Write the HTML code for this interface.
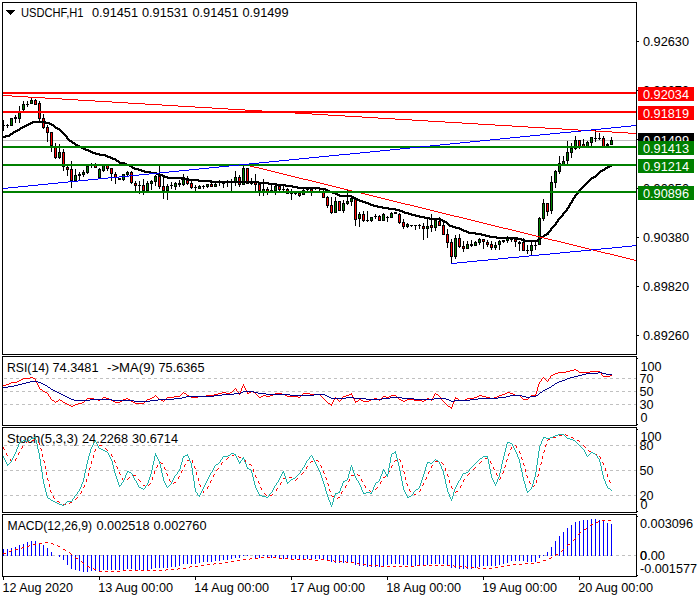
<!DOCTYPE html>
<html><head><meta charset="utf-8"><title>USDCHF H1</title>
<style>
html,body{margin:0;padding:0;background:#fff;}
body{width:700px;height:600px;overflow:hidden;}
svg{display:block;}
text{font-family:"Liberation Sans",sans-serif;}
</style></head><body>
<svg width="700" height="600" viewBox="0 0 700 600">
<rect width="700" height="600" fill="#fff"/>
<g>
<text x="7" y="372" fill="#000" font-size="12.6" textLength="42" lengthAdjust="spacingAndGlyphs">RSI(14)</text>
<text x="52.5" y="372" fill="#000" font-size="12.6" textLength="46" lengthAdjust="spacingAndGlyphs">74.3481</text>
<text x="107" y="372" fill="#000" font-size="12.6" textLength="48" lengthAdjust="spacingAndGlyphs">-&gt;MA(9)</text>
<text x="158.5" y="372" fill="#000" font-size="12.6" textLength="46" lengthAdjust="spacingAndGlyphs">75.6365</text>
<text x="7" y="443" fill="#000" font-size="12.6" textLength="71" lengthAdjust="spacingAndGlyphs">Stoch(5,3,3)</text>
<text x="82" y="443" fill="#000" font-size="12.6" textLength="46" lengthAdjust="spacingAndGlyphs">24.2268</text>
<text x="132" y="443" fill="#000" font-size="12.6" textLength="46" lengthAdjust="spacingAndGlyphs">30.6714</text>
<text x="7.5" y="530" fill="#000" font-size="12.6" textLength="84.5" lengthAdjust="spacingAndGlyphs">MACD(12,26,9)</text>
<text x="96.5" y="530" fill="#000" font-size="12.6" textLength="53" lengthAdjust="spacingAndGlyphs">0.002518</text>
<text x="153.5" y="530" fill="#000" font-size="12.6" textLength="53" lengthAdjust="spacingAndGlyphs">0.002760</text>
</g>
<g shape-rendering="crispEdges">
<rect x="3" y="140" width="633" height="1" fill="#c0c0c0"/>
<rect x="3" y="120" width="1" height="11" fill="#000"/>
<rect x="2" y="125" width="3" height="1" fill="#000"/>
<rect x="7" y="124" width="1" height="4" fill="#000"/>
<rect x="6" y="125" width="3" height="1" fill="#000"/>
<rect x="11" y="118" width="1" height="8" fill="#000"/>
<rect x="10" y="118" width="3" height="8" fill="#000"/>
<rect x="11" y="119" width="1" height="6" fill="#008000"/>
<rect x="15" y="115" width="1" height="8" fill="#000"/>
<rect x="14" y="117" width="3" height="2" fill="#000"/>
<rect x="19" y="106" width="1" height="17" fill="#000"/>
<rect x="18" y="111" width="3" height="8" fill="#000"/>
<rect x="19" y="112" width="1" height="6" fill="#008000"/>
<rect x="23" y="101" width="1" height="10" fill="#000"/>
<rect x="22" y="104" width="3" height="6" fill="#000"/>
<rect x="23" y="105" width="1" height="4" fill="#008000"/>
<rect x="27" y="101" width="1" height="6" fill="#000"/>
<rect x="26" y="104" width="3" height="1" fill="#000"/>
<rect x="31" y="98" width="1" height="6" fill="#000"/>
<rect x="30" y="100" width="3" height="4" fill="#000"/>
<rect x="31" y="101" width="1" height="2" fill="#008000"/>
<rect x="35" y="99" width="1" height="6" fill="#000"/>
<rect x="34" y="100" width="3" height="5" fill="#000"/>
<rect x="35" y="101" width="1" height="3" fill="#ff0000"/>
<rect x="39" y="101" width="1" height="22" fill="#000"/>
<rect x="38" y="103" width="3" height="16" fill="#000"/>
<rect x="39" y="104" width="1" height="14" fill="#ff0000"/>
<rect x="43" y="114" width="1" height="15" fill="#000"/>
<rect x="42" y="118" width="3" height="10" fill="#000"/>
<rect x="43" y="119" width="1" height="8" fill="#ff0000"/>
<rect x="47" y="125" width="1" height="17" fill="#000"/>
<rect x="46" y="127" width="3" height="6" fill="#000"/>
<rect x="47" y="128" width="1" height="4" fill="#ff0000"/>
<rect x="51" y="132" width="1" height="20" fill="#000"/>
<rect x="50" y="132" width="3" height="14" fill="#000"/>
<rect x="51" y="133" width="1" height="12" fill="#ff0000"/>
<rect x="55" y="143" width="1" height="16" fill="#000"/>
<rect x="54" y="146" width="3" height="12" fill="#000"/>
<rect x="55" y="147" width="1" height="10" fill="#ff0000"/>
<rect x="59" y="144" width="1" height="15" fill="#000"/>
<rect x="58" y="152" width="3" height="6" fill="#000"/>
<rect x="59" y="153" width="1" height="4" fill="#008000"/>
<rect x="63" y="149" width="1" height="22" fill="#000"/>
<rect x="62" y="152" width="3" height="15" fill="#000"/>
<rect x="63" y="153" width="1" height="13" fill="#ff0000"/>
<rect x="67" y="166" width="1" height="10" fill="#000"/>
<rect x="66" y="167" width="3" height="3" fill="#000"/>
<rect x="67" y="168" width="1" height="1" fill="#ff0000"/>
<rect x="71" y="161" width="1" height="27" fill="#000"/>
<rect x="70" y="169" width="3" height="12" fill="#000"/>
<rect x="71" y="170" width="1" height="10" fill="#ff0000"/>
<rect x="75" y="169" width="1" height="12" fill="#000"/>
<rect x="74" y="175" width="3" height="6" fill="#000"/>
<rect x="75" y="176" width="1" height="4" fill="#008000"/>
<rect x="79" y="172" width="1" height="8" fill="#000"/>
<rect x="78" y="174" width="3" height="2" fill="#000"/>
<rect x="83" y="170" width="1" height="7" fill="#000"/>
<rect x="82" y="172" width="3" height="3" fill="#000"/>
<rect x="83" y="173" width="1" height="1" fill="#008000"/>
<rect x="87" y="165" width="1" height="9" fill="#000"/>
<rect x="86" y="166" width="3" height="7" fill="#000"/>
<rect x="87" y="167" width="1" height="5" fill="#008000"/>
<rect x="91" y="163" width="1" height="5" fill="#000"/>
<rect x="90" y="165" width="3" height="1" fill="#000"/>
<rect x="95" y="163" width="1" height="5" fill="#000"/>
<rect x="94" y="165" width="3" height="3" fill="#000"/>
<rect x="95" y="166" width="1" height="1" fill="#ff0000"/>
<rect x="99" y="168" width="1" height="10" fill="#000"/>
<rect x="98" y="169" width="3" height="9" fill="#000"/>
<rect x="99" y="170" width="1" height="7" fill="#008000"/>
<rect x="103" y="165" width="1" height="7" fill="#000"/>
<rect x="102" y="165" width="3" height="6" fill="#000"/>
<rect x="103" y="166" width="1" height="4" fill="#008000"/>
<rect x="107" y="165" width="1" height="6" fill="#000"/>
<rect x="106" y="165" width="3" height="4" fill="#000"/>
<rect x="107" y="166" width="1" height="2" fill="#ff0000"/>
<rect x="111" y="168" width="1" height="13" fill="#000"/>
<rect x="110" y="168" width="3" height="6" fill="#000"/>
<rect x="111" y="169" width="1" height="4" fill="#ff0000"/>
<rect x="115" y="172" width="1" height="12" fill="#000"/>
<rect x="114" y="174" width="3" height="4" fill="#000"/>
<rect x="115" y="175" width="1" height="2" fill="#ff0000"/>
<rect x="119" y="178" width="1" height="2" fill="#000"/>
<rect x="118" y="178" width="3" height="2" fill="#000"/>
<rect x="123" y="174" width="1" height="7" fill="#000"/>
<rect x="122" y="174" width="3" height="6" fill="#000"/>
<rect x="123" y="175" width="1" height="4" fill="#008000"/>
<rect x="127" y="171" width="1" height="5" fill="#000"/>
<rect x="126" y="172" width="3" height="3" fill="#000"/>
<rect x="127" y="173" width="1" height="1" fill="#008000"/>
<rect x="131" y="171" width="1" height="13" fill="#000"/>
<rect x="130" y="172" width="3" height="11" fill="#000"/>
<rect x="131" y="173" width="1" height="9" fill="#ff0000"/>
<rect x="135" y="181" width="1" height="10" fill="#000"/>
<rect x="134" y="183" width="3" height="3" fill="#000"/>
<rect x="135" y="184" width="1" height="1" fill="#ff0000"/>
<rect x="139" y="181" width="1" height="13" fill="#000"/>
<rect x="138" y="185" width="3" height="1" fill="#000"/>
<rect x="143" y="179" width="1" height="16" fill="#000"/>
<rect x="142" y="185" width="3" height="6" fill="#000"/>
<rect x="143" y="186" width="1" height="4" fill="#ff0000"/>
<rect x="147" y="181" width="1" height="10" fill="#000"/>
<rect x="146" y="183" width="3" height="8" fill="#000"/>
<rect x="147" y="184" width="1" height="6" fill="#008000"/>
<rect x="151" y="180" width="1" height="10" fill="#000"/>
<rect x="150" y="181" width="3" height="3" fill="#000"/>
<rect x="151" y="182" width="1" height="1" fill="#008000"/>
<rect x="155" y="175" width="1" height="11" fill="#000"/>
<rect x="154" y="176" width="3" height="6" fill="#000"/>
<rect x="155" y="177" width="1" height="4" fill="#008000"/>
<rect x="159" y="166" width="1" height="23" fill="#000"/>
<rect x="158" y="176" width="3" height="11" fill="#000"/>
<rect x="159" y="177" width="1" height="9" fill="#ff0000"/>
<rect x="163" y="176" width="1" height="23" fill="#000"/>
<rect x="162" y="186" width="3" height="5" fill="#000"/>
<rect x="163" y="187" width="1" height="3" fill="#ff0000"/>
<rect x="167" y="184" width="1" height="16" fill="#000"/>
<rect x="166" y="186" width="3" height="5" fill="#000"/>
<rect x="167" y="187" width="1" height="3" fill="#008000"/>
<rect x="171" y="182" width="1" height="7" fill="#000"/>
<rect x="170" y="185" width="3" height="1" fill="#000"/>
<rect x="175" y="182" width="1" height="8" fill="#000"/>
<rect x="174" y="183" width="3" height="4" fill="#000"/>
<rect x="175" y="184" width="1" height="2" fill="#008000"/>
<rect x="179" y="180" width="1" height="7" fill="#000"/>
<rect x="178" y="183" width="3" height="2" fill="#000"/>
<rect x="183" y="174" width="1" height="12" fill="#000"/>
<rect x="182" y="177" width="3" height="8" fill="#000"/>
<rect x="183" y="178" width="1" height="6" fill="#008000"/>
<rect x="187" y="176" width="1" height="9" fill="#000"/>
<rect x="186" y="180" width="3" height="4" fill="#000"/>
<rect x="187" y="181" width="1" height="2" fill="#ff0000"/>
<rect x="191" y="181" width="1" height="8" fill="#000"/>
<rect x="190" y="183" width="3" height="5" fill="#000"/>
<rect x="191" y="184" width="1" height="3" fill="#ff0000"/>
<rect x="195" y="185" width="1" height="6" fill="#000"/>
<rect x="194" y="187" width="3" height="1" fill="#000"/>
<rect x="199" y="185" width="1" height="4" fill="#000"/>
<rect x="198" y="186" width="3" height="3" fill="#000"/>
<rect x="199" y="187" width="1" height="1" fill="#008000"/>
<rect x="203" y="185" width="1" height="4" fill="#000"/>
<rect x="202" y="186" width="3" height="1" fill="#000"/>
<rect x="207" y="184" width="1" height="4" fill="#000"/>
<rect x="206" y="184" width="3" height="3" fill="#000"/>
<rect x="207" y="185" width="1" height="1" fill="#008000"/>
<rect x="211" y="180" width="1" height="7" fill="#000"/>
<rect x="210" y="184" width="3" height="3" fill="#000"/>
<rect x="211" y="185" width="1" height="1" fill="#ff0000"/>
<rect x="215" y="183" width="1" height="4" fill="#000"/>
<rect x="214" y="184" width="3" height="3" fill="#000"/>
<rect x="215" y="185" width="1" height="1" fill="#008000"/>
<rect x="219" y="180" width="1" height="6" fill="#000"/>
<rect x="218" y="182" width="3" height="1" fill="#000"/>
<rect x="223" y="182" width="1" height="6" fill="#000"/>
<rect x="222" y="183" width="3" height="1" fill="#000"/>
<rect x="227" y="180" width="1" height="7" fill="#000"/>
<rect x="226" y="182" width="3" height="1" fill="#000"/>
<rect x="231" y="179" width="1" height="12" fill="#000"/>
<rect x="230" y="182" width="3" height="1" fill="#000"/>
<rect x="235" y="171" width="1" height="15" fill="#000"/>
<rect x="234" y="177" width="3" height="5" fill="#000"/>
<rect x="235" y="178" width="1" height="3" fill="#008000"/>
<rect x="239" y="175" width="1" height="12" fill="#000"/>
<rect x="238" y="177" width="3" height="8" fill="#000"/>
<rect x="239" y="178" width="1" height="6" fill="#ff0000"/>
<rect x="243" y="166" width="1" height="19" fill="#000"/>
<rect x="242" y="168" width="3" height="17" fill="#000"/>
<rect x="243" y="169" width="1" height="15" fill="#008000"/>
<rect x="247" y="168" width="1" height="16" fill="#000"/>
<rect x="246" y="168" width="3" height="16" fill="#000"/>
<rect x="247" y="169" width="1" height="14" fill="#ff0000"/>
<rect x="251" y="178" width="1" height="7" fill="#000"/>
<rect x="250" y="181" width="3" height="3" fill="#000"/>
<rect x="251" y="182" width="1" height="1" fill="#008000"/>
<rect x="255" y="174" width="1" height="17" fill="#000"/>
<rect x="254" y="182" width="3" height="3" fill="#000"/>
<rect x="255" y="183" width="1" height="1" fill="#ff0000"/>
<rect x="259" y="184" width="1" height="12" fill="#000"/>
<rect x="258" y="184" width="3" height="7" fill="#000"/>
<rect x="259" y="185" width="1" height="5" fill="#ff0000"/>
<rect x="263" y="179" width="1" height="17" fill="#000"/>
<rect x="262" y="189" width="3" height="3" fill="#000"/>
<rect x="263" y="190" width="1" height="1" fill="#008000"/>
<rect x="267" y="187" width="1" height="8" fill="#000"/>
<rect x="266" y="189" width="3" height="3" fill="#000"/>
<rect x="267" y="190" width="1" height="1" fill="#ff0000"/>
<rect x="271" y="185" width="1" height="8" fill="#000"/>
<rect x="270" y="190" width="3" height="1" fill="#000"/>
<rect x="275" y="185" width="1" height="10" fill="#000"/>
<rect x="274" y="186" width="3" height="5" fill="#000"/>
<rect x="275" y="187" width="1" height="3" fill="#008000"/>
<rect x="279" y="186" width="1" height="5" fill="#000"/>
<rect x="278" y="186" width="3" height="4" fill="#000"/>
<rect x="279" y="187" width="1" height="2" fill="#ff0000"/>
<rect x="283" y="186" width="1" height="5" fill="#000"/>
<rect x="282" y="189" width="3" height="1" fill="#000"/>
<rect x="287" y="188" width="1" height="6" fill="#000"/>
<rect x="286" y="189" width="3" height="5" fill="#000"/>
<rect x="287" y="190" width="1" height="3" fill="#ff0000"/>
<rect x="291" y="189" width="1" height="11" fill="#000"/>
<rect x="290" y="192" width="3" height="2" fill="#000"/>
<rect x="295" y="193" width="1" height="2" fill="#000"/>
<rect x="294" y="193" width="3" height="1" fill="#000"/>
<rect x="299" y="193" width="1" height="4" fill="#000"/>
<rect x="298" y="193" width="3" height="3" fill="#000"/>
<rect x="299" y="194" width="1" height="1" fill="#ff0000"/>
<rect x="303" y="189" width="1" height="6" fill="#000"/>
<rect x="302" y="190" width="3" height="5" fill="#000"/>
<rect x="303" y="191" width="1" height="3" fill="#008000"/>
<rect x="307" y="188" width="1" height="3" fill="#000"/>
<rect x="306" y="189" width="3" height="1" fill="#000"/>
<rect x="311" y="189" width="1" height="7" fill="#000"/>
<rect x="310" y="189" width="3" height="3" fill="#000"/>
<rect x="311" y="190" width="1" height="1" fill="#ff0000"/>
<rect x="315" y="188" width="1" height="2" fill="#000"/>
<rect x="314" y="188" width="3" height="1" fill="#000"/>
<rect x="319" y="188" width="1" height="3" fill="#000"/>
<rect x="318" y="188" width="3" height="1" fill="#000"/>
<rect x="323" y="190" width="1" height="8" fill="#000"/>
<rect x="322" y="192" width="3" height="6" fill="#000"/>
<rect x="323" y="193" width="1" height="4" fill="#ff0000"/>
<rect x="327" y="196" width="1" height="12" fill="#000"/>
<rect x="326" y="197" width="3" height="9" fill="#000"/>
<rect x="327" y="198" width="1" height="7" fill="#ff0000"/>
<rect x="331" y="197" width="1" height="17" fill="#000"/>
<rect x="330" y="205" width="3" height="8" fill="#000"/>
<rect x="331" y="206" width="1" height="6" fill="#ff0000"/>
<rect x="335" y="197" width="1" height="16" fill="#000"/>
<rect x="334" y="201" width="3" height="12" fill="#000"/>
<rect x="335" y="202" width="1" height="10" fill="#008000"/>
<rect x="339" y="201" width="1" height="10" fill="#000"/>
<rect x="338" y="201" width="3" height="10" fill="#000"/>
<rect x="339" y="202" width="1" height="8" fill="#ff0000"/>
<rect x="343" y="200" width="1" height="13" fill="#000"/>
<rect x="342" y="203" width="3" height="8" fill="#000"/>
<rect x="343" y="204" width="1" height="6" fill="#008000"/>
<rect x="347" y="190" width="1" height="15" fill="#000"/>
<rect x="346" y="201" width="3" height="3" fill="#000"/>
<rect x="347" y="202" width="1" height="1" fill="#008000"/>
<rect x="351" y="196" width="1" height="10" fill="#000"/>
<rect x="350" y="198" width="3" height="4" fill="#000"/>
<rect x="351" y="199" width="1" height="2" fill="#008000"/>
<rect x="355" y="199" width="1" height="27" fill="#000"/>
<rect x="354" y="199" width="3" height="21" fill="#000"/>
<rect x="355" y="200" width="1" height="19" fill="#ff0000"/>
<rect x="359" y="212" width="1" height="15" fill="#000"/>
<rect x="358" y="214" width="3" height="5" fill="#000"/>
<rect x="359" y="215" width="1" height="3" fill="#008000"/>
<rect x="363" y="211" width="1" height="11" fill="#000"/>
<rect x="362" y="214" width="3" height="7" fill="#000"/>
<rect x="363" y="215" width="1" height="5" fill="#ff0000"/>
<rect x="367" y="211" width="1" height="11" fill="#000"/>
<rect x="366" y="220" width="3" height="1" fill="#000"/>
<rect x="371" y="217" width="1" height="5" fill="#000"/>
<rect x="370" y="217" width="3" height="4" fill="#000"/>
<rect x="371" y="218" width="1" height="2" fill="#008000"/>
<rect x="375" y="214" width="1" height="5" fill="#000"/>
<rect x="374" y="216" width="3" height="1" fill="#000"/>
<rect x="379" y="215" width="1" height="6" fill="#000"/>
<rect x="378" y="216" width="3" height="5" fill="#000"/>
<rect x="379" y="217" width="1" height="3" fill="#ff0000"/>
<rect x="383" y="213" width="1" height="8" fill="#000"/>
<rect x="382" y="214" width="3" height="7" fill="#000"/>
<rect x="383" y="215" width="1" height="5" fill="#008000"/>
<rect x="387" y="216" width="1" height="6" fill="#000"/>
<rect x="386" y="217" width="3" height="1" fill="#000"/>
<rect x="391" y="212" width="1" height="6" fill="#000"/>
<rect x="390" y="213" width="3" height="5" fill="#000"/>
<rect x="391" y="214" width="1" height="3" fill="#008000"/>
<rect x="395" y="212" width="1" height="2" fill="#000"/>
<rect x="394" y="212" width="3" height="2" fill="#000"/>
<rect x="399" y="213" width="1" height="11" fill="#000"/>
<rect x="398" y="214" width="3" height="9" fill="#000"/>
<rect x="399" y="215" width="1" height="7" fill="#ff0000"/>
<rect x="403" y="219" width="1" height="10" fill="#000"/>
<rect x="402" y="222" width="3" height="5" fill="#000"/>
<rect x="403" y="223" width="1" height="3" fill="#ff0000"/>
<rect x="407" y="223" width="1" height="5" fill="#000"/>
<rect x="406" y="224" width="3" height="3" fill="#000"/>
<rect x="407" y="225" width="1" height="1" fill="#008000"/>
<rect x="411" y="225" width="1" height="2" fill="#000"/>
<rect x="410" y="225" width="3" height="1" fill="#000"/>
<rect x="415" y="225" width="1" height="5" fill="#000"/>
<rect x="414" y="225" width="3" height="1" fill="#000"/>
<rect x="419" y="224" width="1" height="5" fill="#000"/>
<rect x="418" y="225" width="3" height="1" fill="#000"/>
<rect x="423" y="223" width="1" height="17" fill="#000"/>
<rect x="422" y="226" width="3" height="3" fill="#000"/>
<rect x="423" y="227" width="1" height="1" fill="#ff0000"/>
<rect x="427" y="219" width="1" height="19" fill="#000"/>
<rect x="426" y="226" width="3" height="3" fill="#000"/>
<rect x="427" y="227" width="1" height="1" fill="#008000"/>
<rect x="431" y="214" width="1" height="18" fill="#000"/>
<rect x="430" y="225" width="3" height="3" fill="#000"/>
<rect x="431" y="226" width="1" height="1" fill="#ff0000"/>
<rect x="435" y="219" width="1" height="12" fill="#000"/>
<rect x="434" y="220" width="3" height="8" fill="#000"/>
<rect x="435" y="221" width="1" height="6" fill="#008000"/>
<rect x="439" y="217" width="1" height="9" fill="#000"/>
<rect x="438" y="221" width="3" height="5" fill="#000"/>
<rect x="439" y="222" width="1" height="3" fill="#ff0000"/>
<rect x="443" y="222" width="1" height="13" fill="#000"/>
<rect x="442" y="225" width="3" height="10" fill="#000"/>
<rect x="443" y="226" width="1" height="8" fill="#ff0000"/>
<rect x="447" y="229" width="1" height="19" fill="#000"/>
<rect x="446" y="234" width="3" height="9" fill="#000"/>
<rect x="447" y="235" width="1" height="7" fill="#ff0000"/>
<rect x="451" y="239" width="1" height="24" fill="#000"/>
<rect x="450" y="242" width="3" height="15" fill="#000"/>
<rect x="451" y="243" width="1" height="13" fill="#ff0000"/>
<rect x="455" y="235" width="1" height="24" fill="#000"/>
<rect x="454" y="238" width="3" height="19" fill="#000"/>
<rect x="455" y="239" width="1" height="17" fill="#008000"/>
<rect x="459" y="234" width="1" height="14" fill="#000"/>
<rect x="458" y="238" width="3" height="9" fill="#000"/>
<rect x="459" y="239" width="1" height="7" fill="#ff0000"/>
<rect x="463" y="241" width="1" height="11" fill="#000"/>
<rect x="462" y="246" width="3" height="3" fill="#000"/>
<rect x="463" y="247" width="1" height="1" fill="#ff0000"/>
<rect x="467" y="241" width="1" height="8" fill="#000"/>
<rect x="466" y="244" width="3" height="5" fill="#000"/>
<rect x="467" y="245" width="1" height="3" fill="#008000"/>
<rect x="471" y="240" width="1" height="7" fill="#000"/>
<rect x="470" y="244" width="3" height="2" fill="#000"/>
<rect x="475" y="241" width="1" height="5" fill="#000"/>
<rect x="474" y="242" width="3" height="4" fill="#000"/>
<rect x="475" y="243" width="1" height="2" fill="#008000"/>
<rect x="479" y="238" width="1" height="7" fill="#000"/>
<rect x="478" y="239" width="3" height="4" fill="#000"/>
<rect x="479" y="240" width="1" height="2" fill="#008000"/>
<rect x="483" y="239" width="1" height="10" fill="#000"/>
<rect x="482" y="239" width="3" height="3" fill="#000"/>
<rect x="483" y="240" width="1" height="1" fill="#ff0000"/>
<rect x="487" y="240" width="1" height="7" fill="#000"/>
<rect x="486" y="242" width="3" height="3" fill="#000"/>
<rect x="487" y="243" width="1" height="1" fill="#ff0000"/>
<rect x="491" y="241" width="1" height="9" fill="#000"/>
<rect x="490" y="244" width="3" height="4" fill="#000"/>
<rect x="491" y="245" width="1" height="2" fill="#ff0000"/>
<rect x="495" y="242" width="1" height="8" fill="#000"/>
<rect x="494" y="245" width="3" height="3" fill="#000"/>
<rect x="495" y="246" width="1" height="1" fill="#008000"/>
<rect x="499" y="240" width="1" height="10" fill="#000"/>
<rect x="498" y="241" width="3" height="4" fill="#000"/>
<rect x="499" y="242" width="1" height="2" fill="#008000"/>
<rect x="503" y="240" width="1" height="3" fill="#000"/>
<rect x="502" y="240" width="3" height="2" fill="#000"/>
<rect x="507" y="236" width="1" height="7" fill="#000"/>
<rect x="506" y="238" width="3" height="3" fill="#000"/>
<rect x="507" y="239" width="1" height="1" fill="#008000"/>
<rect x="511" y="239" width="1" height="3" fill="#000"/>
<rect x="510" y="239" width="3" height="1" fill="#000"/>
<rect x="515" y="239" width="1" height="8" fill="#000"/>
<rect x="514" y="239" width="3" height="3" fill="#000"/>
<rect x="515" y="240" width="1" height="1" fill="#ff0000"/>
<rect x="519" y="241" width="1" height="10" fill="#000"/>
<rect x="518" y="242" width="3" height="2" fill="#000"/>
<rect x="523" y="238" width="1" height="13" fill="#000"/>
<rect x="522" y="242" width="3" height="9" fill="#000"/>
<rect x="523" y="243" width="1" height="7" fill="#ff0000"/>
<rect x="527" y="245" width="1" height="9" fill="#000"/>
<rect x="526" y="250" width="3" height="1" fill="#000"/>
<rect x="531" y="242" width="1" height="13" fill="#000"/>
<rect x="530" y="245" width="3" height="6" fill="#000"/>
<rect x="531" y="246" width="1" height="4" fill="#008000"/>
<rect x="535" y="242" width="1" height="8" fill="#000"/>
<rect x="534" y="245" width="3" height="1" fill="#000"/>
<rect x="539" y="217" width="1" height="28" fill="#000"/>
<rect x="538" y="218" width="3" height="27" fill="#000"/>
<rect x="539" y="219" width="1" height="25" fill="#008000"/>
<rect x="543" y="199" width="1" height="22" fill="#000"/>
<rect x="542" y="203" width="3" height="16" fill="#000"/>
<rect x="543" y="204" width="1" height="14" fill="#008000"/>
<rect x="547" y="203" width="1" height="13" fill="#000"/>
<rect x="546" y="203" width="3" height="9" fill="#000"/>
<rect x="547" y="204" width="1" height="7" fill="#ff0000"/>
<rect x="551" y="176" width="1" height="38" fill="#000"/>
<rect x="550" y="182" width="3" height="29" fill="#000"/>
<rect x="551" y="183" width="1" height="27" fill="#008000"/>
<rect x="555" y="170" width="1" height="18" fill="#000"/>
<rect x="554" y="171" width="3" height="12" fill="#000"/>
<rect x="555" y="172" width="1" height="10" fill="#008000"/>
<rect x="559" y="156" width="1" height="18" fill="#000"/>
<rect x="558" y="163" width="3" height="9" fill="#000"/>
<rect x="559" y="164" width="1" height="7" fill="#008000"/>
<rect x="563" y="156" width="1" height="9" fill="#000"/>
<rect x="562" y="161" width="3" height="4" fill="#000"/>
<rect x="563" y="162" width="1" height="2" fill="#008000"/>
<rect x="567" y="141" width="1" height="23" fill="#000"/>
<rect x="566" y="152" width="3" height="9" fill="#000"/>
<rect x="567" y="153" width="1" height="7" fill="#008000"/>
<rect x="571" y="143" width="1" height="15" fill="#000"/>
<rect x="570" y="148" width="3" height="5" fill="#000"/>
<rect x="571" y="149" width="1" height="3" fill="#008000"/>
<rect x="575" y="136" width="1" height="14" fill="#000"/>
<rect x="574" y="140" width="3" height="9" fill="#000"/>
<rect x="575" y="141" width="1" height="7" fill="#008000"/>
<rect x="579" y="140" width="1" height="9" fill="#000"/>
<rect x="578" y="140" width="3" height="7" fill="#000"/>
<rect x="579" y="141" width="1" height="5" fill="#ff0000"/>
<rect x="583" y="139" width="1" height="8" fill="#000"/>
<rect x="582" y="144" width="3" height="3" fill="#000"/>
<rect x="583" y="145" width="1" height="1" fill="#ff0000"/>
<rect x="587" y="141" width="1" height="6" fill="#000"/>
<rect x="586" y="142" width="3" height="5" fill="#000"/>
<rect x="587" y="143" width="1" height="3" fill="#008000"/>
<rect x="591" y="137" width="1" height="9" fill="#000"/>
<rect x="590" y="137" width="3" height="6" fill="#000"/>
<rect x="591" y="138" width="1" height="4" fill="#008000"/>
<rect x="595" y="130" width="1" height="12" fill="#000"/>
<rect x="594" y="138" width="3" height="1" fill="#000"/>
<rect x="599" y="133" width="1" height="7" fill="#000"/>
<rect x="598" y="138" width="3" height="1" fill="#000"/>
<rect x="603" y="136" width="1" height="11" fill="#000"/>
<rect x="602" y="138" width="3" height="9" fill="#000"/>
<rect x="603" y="139" width="1" height="7" fill="#ff0000"/>
<rect x="607" y="143" width="1" height="4" fill="#000"/>
<rect x="606" y="144" width="3" height="2" fill="#000"/>
<rect x="611" y="137" width="1" height="8" fill="#000"/>
<rect x="610" y="140" width="3" height="5" fill="#000"/>
<rect x="611" y="141" width="1" height="3" fill="#008000"/>
<path d="M32 121h14v1h-14zM30 122h20v1h-20zM28 123h5v1h-5zM45 123h7v1h-7zM49 124h5v1h-5zM26 124h5v1h-5zM51 125h4v1h-4zM24 125h5v1h-5zM53 126h3v1h-3zM22 126h5v1h-5zM54 127h4v1h-4zM20 127h5v1h-5zM55 128h5v1h-5zM19 128h4v1h-4zM57 129h4v1h-4zM17 129h4v1h-4zM59 130h3v1h-3zM15 130h5v1h-5zM60 131h3v1h-3zM13 131h5v1h-5zM12 132h4v1h-4zM61 132h3v1h-3zM62 133h3v1h-3zM10 133h4v1h-4zM9 134h4v1h-4zM63 134h3v1h-3zM64 135h3v1h-3zM5 135h6v1h-6zM3 136h7v1h-7zM65 136h3v1h-3zM66 137h2v1h-2zM3 137h3v1h-3zM66 138h3v1h-3zM67 139h3v1h-3zM68 140h4v1h-4zM69 141h4v1h-4zM71 142h4v1h-4zM72 143h4v1h-4zM74 144h4v1h-4zM75 145h5v1h-5zM77 146h5v1h-5zM79 147h5v1h-5zM81 148h5v1h-5zM83 149h6v1h-6zM85 150h6v1h-6zM88 151h5v1h-5zM90 152h6v1h-6zM92 153h8v1h-8zM95 154h11v1h-11zM99 155h9v1h-9zM105 156h6v1h-6zM107 157h6v1h-6zM110 158h6v1h-6zM112 159h5v1h-5zM115 160h4v1h-4zM116 161h4v1h-4zM118 162h7v1h-7zM119 163h8v1h-8zM124 164h6v1h-6zM126 165h6v1h-6zM609 165h3v1h-3zM129 166h4v1h-4zM607 166h5v1h-5zM605 167h5v1h-5zM131 167h4v1h-4zM132 168h7v1h-7zM604 168h4v1h-4zM602 169h4v1h-4zM134 169h8v1h-8zM600 170h5v1h-5zM138 170h7v1h-7zM141 171h10v1h-10zM599 171h4v1h-4zM598 172h3v1h-3zM144 172h13v1h-13zM150 173h9v1h-9zM597 173h3v1h-3zM156 174h7v1h-7zM596 174h3v1h-3zM595 175h3v1h-3zM158 175h7v1h-7zM162 176h6v1h-6zM593 176h4v1h-4zM591 177h5v1h-5zM164 177h18v1h-18zM590 178h4v1h-4zM167 178h22v1h-22zM589 179h3v1h-3zM181 179h18v1h-18zM588 180h3v1h-3zM188 180h23v1h-23zM198 181h61v1h-61zM587 181h3v1h-3zM586 182h3v1h-3zM210 182h59v1h-59zM258 183h19v1h-19zM585 183h3v1h-3zM268 184h18v1h-18zM584 184h3v1h-3zM583 185h3v1h-3zM276 185h17v1h-17zM582 186h3v1h-3zM285 186h13v1h-13zM292 187h28v1h-28zM581 187h3v1h-3zM580 188h3v1h-3zM297 188h29v1h-29zM579 189h3v1h-3zM319 189h9v1h-9zM325 190h5v1h-5zM578 190h3v1h-3zM327 191h6v1h-6zM577 191h3v1h-3zM577 192h2v1h-2zM329 192h7v1h-7zM332 193h6v1h-6zM576 193h3v1h-3zM575 194h3v1h-3zM335 194h5v1h-5zM337 195h15v1h-15zM574 195h3v1h-3zM339 196h15v1h-15zM574 196h2v1h-2zM573 197h3v1h-3zM351 197h5v1h-5zM353 198h5v1h-5zM572 198h3v1h-3zM572 199h2v1h-2zM355 199h5v1h-5zM571 200h3v1h-3zM357 200h6v1h-6zM571 201h2v1h-2zM359 201h7v1h-7zM570 202h3v1h-3zM362 202h7v1h-7zM569 203h3v1h-3zM365 203h6v1h-6zM569 204h2v1h-2zM368 204h6v1h-6zM370 205h8v1h-8zM568 205h3v1h-3zM373 206h10v1h-10zM568 206h2v1h-2zM567 207h3v1h-3zM377 207h12v1h-12zM566 208h3v1h-3zM382 208h14v1h-14zM566 209h2v1h-2zM388 209h12v1h-12zM565 210h3v1h-3zM395 210h8v1h-8zM564 211h3v1h-3zM399 211h6v1h-6zM402 212h7v1h-7zM563 212h3v1h-3zM562 213h3v1h-3zM404 213h8v1h-8zM408 214h8v1h-8zM562 214h2v1h-2zM561 215h3v1h-3zM411 215h9v1h-9zM415 216h10v1h-10zM560 216h3v1h-3zM419 217h11v1h-11zM559 217h3v1h-3zM558 218h3v1h-3zM424 218h17v1h-17zM557 219h3v1h-3zM429 219h14v1h-14zM557 220h2v1h-2zM440 220h5v1h-5zM442 221h5v1h-5zM556 221h3v1h-3zM555 222h3v1h-3zM444 222h4v1h-4zM555 223h2v1h-2zM446 223h3v1h-3zM447 224h3v1h-3zM554 224h3v1h-3zM448 225h5v1h-5zM553 225h3v1h-3zM449 226h7v1h-7zM552 226h3v1h-3zM452 227h8v1h-8zM551 227h3v1h-3zM455 228h7v1h-7zM550 228h3v1h-3zM459 229h5v1h-5zM550 229h2v1h-2zM549 230h3v1h-3zM461 230h6v1h-6zM548 231h3v1h-3zM463 231h6v1h-6zM466 232h10v1h-10zM547 232h3v1h-3zM468 233h14v1h-14zM546 233h3v1h-3zM475 234h11v1h-11zM544 234h5v1h-5zM481 235h9v1h-9zM543 235h4v1h-4zM541 236h4v1h-4zM485 236h12v1h-12zM489 237h29v1h-29zM540 237h4v1h-4zM496 238h26v1h-26zM538 238h4v1h-4zM517 239h8v1h-8zM537 239h4v1h-4zM521 240h18v1h-18zM524 241h14v1h-14z" fill="#000"/>
<path d="M3 95h9v1h-9zM12 96h16v1h-16zM28 97h17v1h-17zM45 98h17v1h-17zM62 99h16v1h-16zM78 100h17v1h-17zM95 101h17v1h-17zM112 102h16v1h-16zM128 103h17v1h-17zM145 104h17v1h-17zM162 105h16v1h-16zM178 106h17v1h-17zM195 107h17v1h-17zM212 108h16v1h-16zM228 109h17v1h-17zM245 110h17v1h-17zM262 111h16v1h-16zM278 112h17v1h-17zM295 113h17v1h-17zM312 114h16v1h-16zM328 115h17v1h-17zM345 116h17v1h-17zM362 117h16v1h-16zM378 118h17v1h-17zM395 119h17v1h-17zM412 120h16v1h-16zM428 121h17v1h-17zM445 122h17v1h-17zM462 123h16v1h-16zM478 124h17v1h-17zM495 125h17v1h-17zM512 126h16v1h-16zM528 127h17v1h-17zM545 128h17v1h-17zM562 129h16v1h-16zM578 130h17v1h-17zM595 131h17v1h-17zM612 132h16v1h-16zM628 133h9v1h-9z" fill="#ff0000"/>
<path d="M245 164h1v1h-1zM246 165h4v1h-4zM250 166h4v1h-4zM254 167h5v1h-5zM259 168h4v1h-4zM263 169h4v1h-4zM267 170h4v1h-4zM271 171h4v1h-4zM275 172h4v1h-4zM279 173h4v1h-4zM283 174h4v1h-4zM287 175h4v1h-4zM291 176h4v1h-4zM295 177h4v1h-4zM299 178h4v1h-4zM303 179h5v1h-5zM308 180h4v1h-4zM312 181h4v1h-4zM316 182h4v1h-4zM320 183h4v1h-4zM324 184h4v1h-4zM328 185h4v1h-4zM332 186h4v1h-4zM336 187h4v1h-4zM340 188h4v1h-4zM344 189h4v1h-4zM348 190h4v1h-4zM352 191h5v1h-5zM357 192h4v1h-4zM361 193h4v1h-4zM365 194h4v1h-4zM369 195h4v1h-4zM373 196h4v1h-4zM377 197h4v1h-4zM381 198h4v1h-4zM385 199h4v1h-4zM389 200h4v1h-4zM393 201h4v1h-4zM397 202h4v1h-4zM401 203h4v1h-4zM405 204h5v1h-5zM410 205h4v1h-4zM414 206h4v1h-4zM418 207h4v1h-4zM422 208h4v1h-4zM426 209h4v1h-4zM430 210h4v1h-4zM434 211h4v1h-4zM438 212h4v1h-4zM442 213h4v1h-4zM446 214h4v1h-4zM450 215h4v1h-4zM454 216h5v1h-5zM459 217h4v1h-4zM463 218h4v1h-4zM467 219h4v1h-4zM471 220h4v1h-4zM475 221h4v1h-4zM479 222h4v1h-4zM483 223h4v1h-4zM487 224h4v1h-4zM491 225h4v1h-4zM495 226h4v1h-4zM499 227h4v1h-4zM503 228h5v1h-5zM508 229h4v1h-4zM512 230h4v1h-4zM516 231h4v1h-4zM520 232h4v1h-4zM524 233h4v1h-4zM528 234h4v1h-4zM532 235h4v1h-4zM536 236h4v1h-4zM540 237h4v1h-4zM544 238h4v1h-4zM548 239h4v1h-4zM552 240h5v1h-5zM557 241h4v1h-4zM561 242h4v1h-4zM565 243h4v1h-4zM569 244h4v1h-4zM573 245h4v1h-4zM577 246h4v1h-4zM581 247h4v1h-4zM585 248h4v1h-4zM589 249h4v1h-4zM593 250h4v1h-4zM597 251h4v1h-4zM601 252h4v1h-4zM605 253h5v1h-5zM610 254h4v1h-4zM614 255h4v1h-4zM618 256h4v1h-4zM622 257h4v1h-4zM626 258h4v1h-4zM630 259h4v1h-4zM634 260h3v1h-3z" fill="#ff0000"/>
<rect x="3" y="92" width="633" height="2" fill="#ff0000"/>
<rect x="3" y="111" width="633" height="2" fill="#ff0000"/>
<rect x="3" y="146" width="633" height="2" fill="#008000"/>
<rect x="3" y="164" width="633" height="2" fill="#008000"/>
<rect x="3" y="191" width="633" height="2" fill="#008000"/>
<path d="M631 125h6v1h-6zM621 126h10v1h-10zM611 127h10v1h-10zM601 128h10v1h-10zM591 129h10v1h-10zM581 130h10v1h-10zM571 131h10v1h-10zM560 132h11v1h-11zM550 133h10v1h-10zM540 134h10v1h-10zM530 135h10v1h-10zM520 136h10v1h-10zM510 137h10v1h-10zM500 138h10v1h-10zM490 139h10v1h-10zM480 140h10v1h-10zM470 141h10v1h-10zM460 142h10v1h-10zM450 143h10v1h-10zM440 144h10v1h-10zM430 145h10v1h-10zM420 146h10v1h-10zM410 147h10v1h-10zM400 148h10v1h-10zM390 149h10v1h-10zM380 150h10v1h-10zM370 151h10v1h-10zM360 152h10v1h-10zM350 153h10v1h-10zM339 154h11v1h-11zM329 155h10v1h-10zM319 156h10v1h-10zM309 157h10v1h-10zM299 158h10v1h-10zM289 159h10v1h-10zM279 160h10v1h-10zM269 161h10v1h-10zM259 162h10v1h-10zM249 163h10v1h-10zM239 164h10v1h-10zM229 165h10v1h-10zM219 166h10v1h-10zM209 167h10v1h-10zM199 168h10v1h-10zM189 169h10v1h-10zM179 170h10v1h-10zM169 171h10v1h-10zM159 172h10v1h-10zM149 173h10v1h-10zM139 174h10v1h-10zM129 175h10v1h-10zM119 176h10v1h-10zM108 177h11v1h-11zM98 178h10v1h-10zM88 179h10v1h-10zM78 180h10v1h-10zM68 181h10v1h-10zM58 182h10v1h-10zM48 183h10v1h-10zM38 184h10v1h-10zM28 185h10v1h-10zM18 186h10v1h-10zM8 187h10v1h-10zM3 188h5v1h-5z" fill="#0000ff"/>
<path d="M632 245h5v1h-5zM622 246h10v1h-10zM612 247h10v1h-10zM601 248h11v1h-11zM591 249h10v1h-10zM581 250h10v1h-10zM570 251h11v1h-11zM560 252h10v1h-10zM550 253h10v1h-10zM539 254h11v1h-11zM529 255h10v1h-10zM519 256h10v1h-10zM508 257h11v1h-11zM498 258h10v1h-10zM488 259h10v1h-10zM477 260h11v1h-11zM467 261h10v1h-10zM457 262h10v1h-10zM451 263h6v1h-6z" fill="#0000ff"/>
<line x1="4" y1="378.5" x2="636" y2="378.5" stroke="#c0c0c0" stroke-dasharray="3 3"/>
<line x1="4" y1="391.5" x2="636" y2="391.5" stroke="#c0c0c0" stroke-dasharray="3 3"/>
<line x1="4" y1="404.5" x2="636" y2="404.5" stroke="#c0c0c0" stroke-dasharray="3 3"/>
<path d="M574 369h2v1h-2zM576 370h2v1h-2zM570 370h4v1h-4zM590 371h10v1h-10zM578 371h1v1h-1zM566 371h4v1h-4zM558 372h8v1h-8zM600 372h1v1h-1zM579 372h11v1h-11zM555 373h3v1h-3zM553 374h2v1h-2zM601 373h1v2h-1zM551 375h2v1h-2zM610 375h2v1h-2zM602 375h1v1h-1zM603 376h7v1h-7zM550 376h1v2h-1zM543 377h1v1h-1zM30 377h3v1h-3zM549 378h1v1h-1zM542 378h1v1h-1zM33 378h2v1h-2zM544 378h1v1h-1zM23 378h7v1h-7zM545 379h1v1h-1zM21 379h2v1h-2zM35 379h1v2h-1zM546 380h1v1h-1zM548 379h1v2h-1zM541 379h1v2h-1zM19 380h2v1h-2zM547 381h1v1h-1zM17 381h2v1h-2zM540 381h1v1h-1zM36 381h1v2h-1zM11 382h6v1h-6zM9 383h2v1h-2zM539 382h1v2h-1zM37 383h1v2h-1zM6 384h3v1h-3zM243 384h1v2h-1zM3 385h3v1h-3zM538 384h1v3h-1zM38 385h1v2h-1zM244 386h1v2h-1zM242 386h1v2h-1zM39 387h1v2h-1zM235 388h1v1h-1zM40 389h2v1h-2zM245 388h1v2h-1zM234 389h1v1h-1zM236 389h1v2h-1zM233 390h1v1h-1zM42 390h1v1h-1zM537 387h1v4h-1zM241 388h1v3h-1zM237 391h1v1h-1zM246 390h1v2h-1zM251 391h2v1h-2zM43 391h2v1h-2zM232 391h1v1h-1zM238 392h1v1h-1zM253 392h2v1h-2zM222 392h4v1h-4zM183 392h1v1h-1zM247 392h1v1h-1zM249 392h2v1h-2zM240 391h1v2h-1zM45 392h2v1h-2zM507 392h3v1h-3zM230 392h2v1h-2zM247 393h2v1h-2zM184 393h2v1h-2zM182 393h1v1h-1zM218 393h4v1h-4zM255 393h1v1h-1zM536 391h1v3h-1zM505 393h2v1h-2zM275 393h7v1h-7zM47 393h1v1h-1zM435 393h1v1h-1zM351 393h1v1h-1zM510 393h3v1h-3zM226 393h4v1h-4zM238 393h2v1h-2zM303 393h7v1h-7zM273 394h2v1h-2zM513 394h2v1h-2zM436 394h2v1h-2zM502 394h3v1h-3zM186 394h1v1h-1zM535 394h1v1h-1zM302 394h1v1h-1zM310 394h10v1h-10zM282 394h3v1h-3zM256 394h1v1h-1zM214 394h4v1h-4zM239 394h1v1h-1zM181 394h1v1h-1zM349 394h3v1h-3zM434 394h1v2h-1zM301 395h1v1h-1zM285 395h2v1h-2zM320 395h1v1h-1zM479 395h3v1h-3zM263 395h3v1h-3zM346 395h3v1h-3zM155 395h1v1h-1zM515 395h5v1h-5zM391 395h5v1h-5zM257 395h1v1h-1zM499 395h3v1h-3zM270 395h3v1h-3zM180 395h1v1h-1zM48 394h1v2h-1zM531 395h5v1h-5zM187 395h2v1h-2zM438 395h1v1h-1zM206 395h8v1h-8zM154 396h1v1h-1zM439 396h1v1h-1zM352 395h1v2h-1zM49 396h1v1h-1zM189 396h2v1h-2zM198 396h8v1h-8zM383 396h3v1h-3zM321 396h1v1h-1zM482 396h4v1h-4zM266 396h4v1h-4zM156 396h1v1h-1zM497 396h2v1h-2zM343 396h3v1h-3zM174 396h6v1h-6zM287 396h11v1h-11zM258 396h1v1h-1zM396 396h1v1h-1zM520 396h1v1h-1zM300 396h1v1h-1zM477 396h2v1h-2zM261 396h2v1h-2zM389 396h2v1h-2zM530 396h1v1h-1zM474 397h3v1h-3zM397 397h1v1h-1zM152 397h2v1h-2zM191 397h7v1h-7zM103 397h3v1h-3zM486 397h4v1h-4zM440 397h1v1h-1zM335 397h1v1h-1zM494 397h3v1h-3zM259 397h2v1h-2zM382 397h1v1h-1zM157 397h1v1h-1zM455 397h1v1h-1zM529 397h1v1h-1zM322 397h1v1h-1zM433 396h1v2h-1zM386 397h3v1h-3zM167 397h7v1h-7zM342 397h1v1h-1zM521 397h1v1h-1zM298 397h2v1h-2zM427 398h2v1h-2zM398 398h1v1h-1zM522 398h1v1h-1zM490 398h4v1h-4zM467 398h7v1h-7zM374 398h3v1h-3zM353 397h1v2h-1zM50 397h1v2h-1zM381 398h1v1h-1zM126 398h2v1h-2zM528 398h1v1h-1zM87 398h7v1h-7zM102 398h1v1h-1zM166 398h1v1h-1zM336 398h1v1h-1zM323 398h1v1h-1zM150 398h2v1h-2zM106 398h3v1h-3zM455 398h3v1h-3zM158 398h1v1h-1zM128 399h2v1h-2zM523 399h5v1h-5zM324 399h1v1h-1zM86 399h1v1h-1zM407 399h7v1h-7zM377 399h2v1h-2zM458 399h1v1h-1zM380 399h1v1h-1zM334 398h1v2h-1zM426 399h1v1h-1zM465 399h2v1h-2zM165 399h1v1h-1zM59 399h1v1h-1zM51 399h1v1h-1zM359 399h2v1h-2zM432 398h1v2h-1zM441 398h1v2h-1zM123 399h3v1h-3zM429 399h2v1h-2zM371 399h3v1h-3zM147 399h3v1h-3zM399 399h2v1h-2zM341 398h1v2h-1zM159 399h2v1h-2zM337 399h1v1h-1zM100 399h2v1h-2zM94 399h4v1h-4zM109 399h2v1h-2zM379 400h1v1h-1zM58 400h1v1h-1zM164 400h1v1h-1zM60 400h2v1h-2zM338 400h1v1h-1zM161 400h2v1h-2zM325 400h1v1h-1zM431 400h1v1h-1zM111 400h2v1h-2zM98 400h2v1h-2zM146 400h1v1h-1zM405 400h2v1h-2zM52 400h2v1h-2zM358 400h1v1h-1zM414 400h8v1h-8zM369 400h2v1h-2zM424 400h2v1h-2zM401 400h2v1h-2zM354 399h1v2h-1zM340 400h1v1h-1zM361 400h2v1h-2zM130 400h1v1h-1zM442 400h1v1h-1zM459 400h6v1h-6zM85 400h1v1h-1zM122 400h1v1h-1zM443 401h1v1h-1zM145 401h1v1h-1zM163 401h1v1h-1zM54 401h1v1h-1zM131 401h2v1h-2zM56 401h2v1h-2zM120 401h2v1h-2zM113 401h2v1h-2zM326 401h1v1h-1zM333 400h1v2h-1zM422 401h2v1h-2zM454 399h1v3h-1zM363 401h6v1h-6zM403 401h2v1h-2zM62 401h1v1h-1zM339 401h1v1h-1zM355 401h3v1h-3zM84 401h1v1h-1zM82 402h2v1h-2zM444 402h1v1h-1zM144 402h1v1h-1zM55 402h1v1h-1zM327 402h1v1h-1zM133 402h2v1h-2zM355 402h1v1h-1zM115 402h5v1h-5zM63 402h2v1h-2zM332 402h1v2h-1zM453 402h1v2h-1zM445 403h1v1h-1zM65 403h2v1h-2zM135 403h9v1h-9zM78 403h4v1h-4zM328 403h2v1h-2zM330 404h2v1h-2zM446 404h1v1h-1zM75 404h3v1h-3zM67 404h2v1h-2zM73 405h2v1h-2zM331 405h1v1h-1zM69 405h2v1h-2zM447 405h1v1h-1zM71 406h2v1h-2zM452 404h1v3h-1zM448 406h2v1h-2zM450 407h2v1h-2zM451 408h1v1h-1z" fill="#ff0000"/>
<path d="M598 372h4v1h-4zM602 373h4v1h-4zM586 373h12v1h-12zM582 374h4v1h-4zM606 374h6v1h-6zM578 375h4v1h-4zM574 376h4v1h-4zM570 377h4v1h-4zM567 378h3v1h-3zM565 379h2v1h-2zM562 380h3v1h-3zM30 381h8v1h-8zM559 381h3v1h-3zM38 382h3v1h-3zM557 382h2v1h-2zM26 382h4v1h-4zM555 383h2v1h-2zM22 383h4v1h-4zM41 383h2v1h-2zM554 384h1v1h-1zM18 384h4v1h-4zM43 384h2v1h-2zM14 385h4v1h-4zM552 385h2v1h-2zM45 385h2v1h-2zM551 386h1v1h-1zM8 386h6v1h-6zM47 386h1v1h-1zM48 387h2v1h-2zM3 387h5v1h-5zM549 387h2v1h-2zM50 388h1v1h-1zM547 388h2v1h-2zM545 389h2v1h-2zM51 389h2v1h-2zM53 390h2v1h-2zM543 390h2v1h-2zM55 391h2v1h-2zM243 391h11v1h-11zM542 391h1v1h-1zM540 392h2v1h-2zM57 392h2v1h-2zM254 392h4v1h-4zM241 392h2v1h-2zM539 393h1v1h-1zM258 393h8v1h-8zM59 393h2v1h-2zM234 393h7v1h-7zM314 394h11v1h-11zM266 394h24v1h-24zM222 394h12v1h-12zM61 394h2v1h-2zM538 394h1v1h-1zM536 395h2v1h-2zM214 395h8v1h-8zM325 395h2v1h-2zM290 395h24v1h-24zM510 395h12v1h-12zM63 395h2v1h-2zM186 396h28v1h-28zM327 396h2v1h-2zM530 396h6v1h-6zM522 396h4v1h-4zM65 396h2v1h-2zM506 396h4v1h-4zM346 397h8v1h-8zM390 397h12v1h-12zM329 397h2v1h-2zM498 397h8v1h-8zM526 397h4v1h-4zM182 397h4v1h-4zM67 397h2v1h-2zM174 398h8v1h-8zM382 398h8v1h-8zM478 398h20v1h-20zM69 398h2v1h-2zM434 398h12v1h-12zM354 398h12v1h-12zM402 398h12v1h-12zM331 398h15v1h-15zM158 399h16v1h-16zM414 399h20v1h-20zM71 399h3v1h-3zM90 399h22v1h-22zM366 399h16v1h-16zM446 399h3v1h-3zM470 399h8v1h-8zM150 400h8v1h-8zM74 400h16v1h-16zM112 400h22v1h-22zM449 400h2v1h-2zM454 400h16v1h-16zM451 401h3v1h-3zM134 401h16v1h-16z" fill="#00008b"/>
<line x1="4" y1="445.5" x2="636" y2="445.5" stroke="#c0c0c0" stroke-dasharray="3 3"/>
<line x1="4" y1="470.5" x2="636" y2="470.5" stroke="#c0c0c0" stroke-dasharray="3 3"/>
<line x1="4" y1="495.5" x2="636" y2="495.5" stroke="#c0c0c0" stroke-dasharray="3 3"/>
<path d="M565 434h1v1h-1zM566 435h2v1h-2zM559 435h3v1h-3zM571 437h2v1h-2zM553 437h3v1h-3zM573 438h1v1h-1zM548 439h2v1h-2zM34 439h1v1h-1zM577 440h2v1h-2zM32 440h2v1h-2zM547 440h1v1h-1zM579 441h1v1h-1zM27 441h2v1h-2zM26 442h1v1h-1zM38 442h1v1h-1zM39 443h1v2h-1zM546 444h1v1h-1zM583 445h1v1h-1zM515 445h1v1h-1zM99 445h3v1h-3zM584 446h1v1h-1zM545 445h1v2h-1zM516 446h1v2h-1zM22 446h1v2h-1zM585 447h1v1h-1zM511 447h1v2h-1zM3 447h1v2h-1zM105 448h1v1h-1zM21 448h1v1h-1zM40 448h1v1h-1zM106 449h1v1h-1zM510 449h1v1h-1zM4 449h1v1h-1zM588 450h1v1h-1zM41 449h1v2h-1zM95 449h1v2h-1zM107 450h1v1h-1zM544 450h1v2h-1zM94 451h1v1h-1zM589 451h2v1h-2zM543 452h1v1h-1zM19 452h1v1h-1zM519 451h1v2h-1zM520 453h1v1h-1zM594 453h1v1h-1zM509 453h1v1h-1zM18 453h1v2h-1zM6 453h1v2h-1zM595 454h2v1h-2zM234 454h1v1h-1zM508 454h1v2h-1zM111 454h1v2h-1zM232 455h2v1h-2zM7 455h1v1h-1zM238 456h1v1h-1zM112 456h1v1h-1zM599 456h1v1h-1zM42 454h1v3h-1zM487 457h1v1h-1zM228 457h1v1h-1zM93 455h1v3h-1zM239 457h2v1h-2zM542 456h1v3h-1zM600 457h1v2h-1zM227 458h1v1h-1zM485 458h2v1h-2zM521 457h1v2h-1zM16 458h1v1h-1zM399 459h1v1h-1zM189 459h1v1h-1zM244 459h1v1h-1zM507 459h1v1h-1zM522 459h1v1h-1zM226 459h1v1h-1zM10 459h1v2h-1zM15 459h1v2h-1zM187 460h2v1h-2zM316 460h2v1h-2zM395 460h2v1h-2zM43 460h1v1h-1zM435 461h3v1h-3zM311 461h2v1h-2zM400 460h1v2h-1zM11 461h1v1h-1zM318 461h1v1h-1zM506 460h1v2h-1zM481 461h1v1h-1zM394 461h1v1h-1zM114 460h1v2h-1zM245 460h1v2h-1zM222 462h1v1h-1zM115 462h1v1h-1zM192 460h1v3h-1zM44 461h1v2h-1zM160 462h1v1h-1zM602 462h1v1h-1zM480 462h1v1h-1zM490 461h1v2h-1zM310 462h1v1h-1zM441 462h1v1h-1zM479 463h1v1h-1zM442 463h1v1h-1zM491 463h1v1h-1zM161 463h2v1h-2zM541 462h1v2h-1zM91 461h1v3h-1zM443 464h1v1h-1zM540 464h1v1h-1zM249 464h2v1h-2zM603 463h1v2h-1zM523 463h1v2h-1zM221 463h1v2h-1zM185 464h1v1h-1zM392 465h1v1h-1zM524 465h1v1h-1zM320 465h1v1h-1zM251 465h1v1h-1zM432 465h1v1h-1zM157 465h1v2h-1zM307 466h1v1h-1zM184 465h1v2h-1zM116 466h1v1h-1zM505 465h1v2h-1zM90 467h1v1h-1zM194 466h1v2h-1zM402 465h1v3h-1zM431 466h1v2h-1zM475 467h1v1h-1zM504 467h1v1h-1zM321 466h1v2h-1zM391 466h1v2h-1zM156 467h1v1h-1zM306 467h1v2h-1zM45 466h1v3h-1zM164 467h1v2h-1zM218 468h1v1h-1zM493 467h1v2h-1zM195 468h1v1h-1zM474 468h1v1h-1zM117 467h1v2h-1zM217 469h1v1h-1zM494 469h1v1h-1zM89 468h1v2h-1zM165 469h1v1h-1zM473 469h1v1h-1zM182 470h1v1h-1zM445 468h1v3h-1zM605 468h1v3h-1zM539 468h1v3h-1zM216 470h1v1h-1zM253 469h1v3h-1zM525 469h1v3h-1zM429 471h1v1h-1zM403 471h1v1h-1zM389 471h1v1h-1zM503 471h1v2h-1zM323 471h1v2h-1zM303 472h1v1h-1zM181 471h1v2h-1zM502 473h1v1h-1zM154 471h1v3h-1zM404 472h1v2h-1zM119 472h1v2h-1zM324 473h1v1h-1zM388 472h1v2h-1zM469 473h1v1h-1zM166 473h1v1h-1zM302 473h1v1h-1zM428 472h1v2h-1zM468 474h1v1h-1zM301 474h1v1h-1zM120 474h1v1h-1zM214 474h1v1h-1zM496 473h1v2h-1zM46 472h1v3h-1zM196 472h1v3h-1zM357 474h1v1h-1zM133 475h3v1h-3zM351 475h3v1h-3zM497 475h1v1h-1zM167 474h1v2h-1zM526 475h1v1h-1zM358 475h2v1h-2zM88 473h1v3h-1zM538 474h1v2h-1zM467 475h1v1h-1zM447 474h1v2h-1zM179 476h1v1h-1zM385 476h1v1h-1zM255 475h1v2h-1zM607 474h1v3h-1zM213 475h1v2h-1zM537 476h1v1h-1zM448 476h1v1h-1zM129 477h1v1h-1zM383 477h2v1h-2zM527 476h1v2h-1zM256 477h1v1h-1zM289 477h3v1h-3zM325 477h1v1h-1zM426 477h1v2h-1zM128 478h1v1h-1zM283 478h3v1h-3zM500 477h1v2h-1zM297 478h1v1h-1zM178 477h1v2h-1zM425 479h1v1h-1zM138 479h1v1h-1zM326 478h1v2h-1zM464 479h1v1h-1zM127 479h1v1h-1zM122 478h1v2h-1zM47 478h1v2h-1zM499 479h1v1h-1zM405 477h1v3h-1zM296 479h1v1h-1zM152 477h1v3h-1zM361 479h1v2h-1zM295 480h1v1h-1zM48 480h1v1h-1zM198 478h1v3h-1zM211 480h1v1h-1zM349 479h1v2h-1zM123 480h1v1h-1zM139 480h1v1h-1zM169 479h1v2h-1zM463 480h1v2h-1zM362 481h1v1h-1zM86 479h1v3h-1zM381 481h1v1h-1zM609 480h1v2h-1zM140 481h1v1h-1zM348 481h1v1h-1zM170 481h1v1h-1zM449 480h1v3h-1zM536 480h1v3h-1zM529 481h1v2h-1zM281 482h1v1h-1zM210 481h1v2h-1zM258 481h1v2h-1zM174 482h2v1h-2zM610 482h1v1h-1zM530 483h1v1h-1zM406 483h1v1h-1zM173 483h1v1h-1zM327 483h1v1h-1zM259 483h1v1h-1zM150 483h1v1h-1zM380 482h1v2h-1zM199 484h1v1h-1zM423 483h1v2h-1zM149 484h1v1h-1zM280 483h1v2h-1zM534 485h1v1h-1zM328 484h1v2h-1zM346 485h1v1h-1zM407 484h1v2h-1zM148 485h1v1h-1zM461 485h1v1h-1zM143 485h2v1h-2zM422 485h1v1h-1zM364 485h1v1h-1zM200 485h1v2h-1zM145 486h1v1h-1zM208 486h1v1h-1zM532 486h2v1h-2zM49 484h1v3h-1zM84 485h1v2h-1zM83 487h1v1h-1zM260 487h1v1h-1zM460 486h1v2h-1zM365 486h1v2h-1zM345 486h1v2h-1zM451 486h1v2h-1zM377 487h1v1h-1zM277 488h1v1h-1zM452 488h1v1h-1zM207 487h1v2h-1zM376 488h1v1h-1zM375 489h1v1h-1zM261 488h1v2h-1zM276 489h1v2h-1zM369 490h1v1h-1zM202 490h1v1h-1zM420 489h1v2h-1zM409 489h1v2h-1zM329 489h1v2h-1zM370 491h1v1h-1zM456 491h2v1h-2zM330 491h1v1h-1zM50 490h1v2h-1zM342 491h1v1h-1zM410 491h1v1h-1zM419 491h1v1h-1zM81 491h1v2h-1zM455 492h1v1h-1zM371 492h1v1h-1zM51 492h1v1h-1zM203 491h1v2h-1zM264 493h1v1h-1zM341 492h1v2h-1zM413 493h1v1h-1zM80 493h1v1h-1zM272 494h1v1h-1zM414 494h2v1h-2zM265 494h1v1h-1zM331 495h1v1h-1zM266 495h1v1h-1zM270 495h2v1h-2zM332 496h2v1h-2zM77 497h1v1h-1zM338 497h2v1h-2zM53 496h1v2h-1zM337 498h1v1h-1zM76 498h1v1h-1zM54 498h1v1h-1zM75 499h1v1h-1zM57 501h2v1h-2zM59 502h1v1h-1zM70 502h2v1h-2zM69 503h1v1h-1zM63 504h3v1h-3z" fill="#ff0000"/>
<path d="M558 434h6v1h-6zM564 435h1v1h-1zM555 435h3v1h-3zM553 436h2v1h-2zM565 436h1v1h-1zM566 437h1v1h-1zM550 437h3v1h-3zM34 437h2v1h-2zM543 437h3v1h-3zM567 438h3v1h-3zM31 438h3v1h-3zM543 438h1v1h-1zM546 438h4v1h-4zM35 438h1v2h-1zM30 439h1v1h-1zM570 439h3v1h-3zM23 440h3v1h-3zM542 439h1v2h-1zM95 440h1v1h-1zM573 440h2v1h-2zM28 440h2v1h-2zM575 441h1v1h-1zM94 441h2v1h-2zM26 441h2v1h-2zM21 441h2v1h-2zM576 442h1v1h-1zM507 442h3v1h-3zM94 442h1v1h-1zM19 442h2v1h-2zM19 443h1v1h-1zM96 442h1v2h-1zM507 443h1v1h-1zM577 443h1v1h-1zM541 441h1v3h-1zM36 440h1v4h-1zM510 443h2v1h-2zM578 444h1v1h-1zM93 443h1v2h-1zM579 445h1v1h-1zM540 444h1v2h-1zM512 444h1v2h-1zM97 444h1v2h-1zM92 445h1v2h-1zM18 444h1v3h-1zM580 446h1v1h-1zM513 446h1v2h-1zM581 447h1v1h-1zM506 444h1v4h-1zM98 446h1v2h-1zM99 448h2v1h-2zM37 444h1v5h-1zM17 447h1v2h-1zM91 447h1v2h-1zM582 448h1v1h-1zM101 449h2v1h-2zM514 448h1v2h-1zM583 449h1v1h-1zM103 450h2v1h-2zM539 446h1v5h-1zM584 450h1v2h-1zM515 450h1v2h-1zM105 451h2v1h-2zM395 451h1v1h-1zM505 448h1v4h-1zM16 449h1v3h-1zM90 449h1v4h-1zM38 449h1v4h-1zM591 452h2v1h-2zM394 452h2v1h-2zM107 452h1v1h-1zM395 453h1v1h-1zM593 453h2v1h-2zM516 452h1v2h-1zM15 452h1v2h-1zM590 453h1v1h-1zM392 453h2v1h-2zM231 453h3v1h-3zM585 452h1v2h-1zM108 453h1v2h-1zM230 454h1v1h-1zM589 454h1v1h-1zM234 454h2v1h-2zM187 454h1v1h-1zM595 454h1v1h-1zM155 453h1v2h-1zM588 455h1v1h-1zM185 455h3v1h-3zM504 452h1v4h-1zM235 455h1v1h-1zM89 453h1v3h-1zM311 455h1v1h-1zM155 455h2v1h-2zM596 455h1v1h-1zM228 455h2v1h-2zM14 454h1v2h-1zM586 454h1v2h-1zM517 454h1v3h-1zM109 455h1v2h-1zM483 456h5v1h-5zM587 456h1v1h-1zM156 456h1v1h-1zM183 456h2v1h-2zM391 454h1v3h-1zM223 456h5v1h-5zM310 456h1v1h-1zM3 456h1v2h-1zM13 456h1v2h-1zM183 457h1v1h-1zM482 457h1v1h-1zM243 457h1v1h-1zM188 456h1v2h-1zM312 456h1v2h-1zM597 456h1v2h-1zM538 451h1v7h-1zM396 454h1v4h-1zM236 456h1v2h-1zM110 457h1v2h-1zM518 457h1v2h-1zM487 457h1v2h-1zM598 458h1v1h-1zM157 457h1v2h-1zM309 457h1v2h-1zM222 457h1v2h-1zM480 458h2v1h-2zM39 453h1v6h-1zM242 458h2v1h-2zM12 458h1v2h-1zM237 458h1v2h-1zM435 459h1v1h-1zM242 459h1v1h-1zM4 458h1v2h-1zM308 459h1v1h-1zM221 459h1v1h-1zM313 458h1v2h-1zM88 456h1v4h-1zM479 459h1v1h-1zM503 456h1v4h-1zM434 460h1v1h-1zM154 456h1v5h-1zM436 460h2v1h-2zM307 460h1v1h-1zM478 460h1v1h-1zM189 458h1v3h-1zM111 459h1v2h-1zM158 459h1v2h-1zM241 460h1v1h-1zM397 458h1v4h-1zM182 458h1v4h-1zM477 461h1v1h-1zM238 460h1v2h-1zM220 460h1v2h-1zM5 460h1v2h-1zM244 459h1v3h-1zM240 461h1v1h-1zM433 461h1v1h-1zM314 460h1v2h-1zM11 460h1v2h-1zM438 461h1v1h-1zM599 459h1v3h-1zM306 461h1v2h-1zM219 462h1v1h-1zM239 462h2v1h-2zM476 462h1v1h-1zM390 457h1v6h-1zM519 459h1v4h-1zM432 462h1v1h-1zM10 462h1v1h-1zM427 462h3v1h-3zM190 461h1v2h-1zM475 463h1v1h-1zM315 462h1v2h-1zM439 462h1v2h-1zM159 461h1v3h-1zM427 463h1v1h-1zM239 463h1v1h-1zM87 460h1v4h-1zM9 463h1v1h-1zM6 462h1v2h-1zM245 462h1v2h-1zM502 460h1v4h-1zM488 459h1v5h-1zM218 463h1v1h-1zM430 463h2v1h-2zM216 464h2v1h-2zM537 458h1v7h-1zM7 464h2v1h-2zM474 464h1v1h-1zM181 462h1v3h-1zM112 461h1v4h-1zM153 461h1v4h-1zM305 463h1v2h-1zM398 462h1v4h-1zM600 462h1v4h-1zM40 459h1v7h-1zM316 464h1v2h-1zM440 464h1v2h-1zM215 465h1v1h-1zM473 465h1v1h-1zM7 465h1v1h-1zM246 464h1v3h-1zM426 464h1v3h-1zM472 466h1v1h-1zM304 465h1v2h-1zM351 465h1v2h-1zM471 467h1v1h-1zM191 463h1v5h-1zM389 463h1v5h-1zM247 467h1v1h-1zM160 464h1v4h-1zM303 467h1v1h-1zM317 466h1v2h-1zM520 463h1v5h-1zM214 466h1v2h-1zM489 464h1v5h-1zM86 464h1v5h-1zM113 465h1v4h-1zM441 466h1v3h-1zM501 464h1v5h-1zM180 465h1v4h-1zM470 468h1v1h-1zM247 468h2v1h-2zM302 468h1v2h-1zM352 467h1v3h-1zM249 469h2v1h-2zM152 465h1v5h-1zM318 468h1v2h-1zM213 468h1v2h-1zM383 469h1v1h-1zM425 467h1v4h-1zM301 470h1v1h-1zM399 466h1v5h-1zM601 466h1v5h-1zM179 469h1v2h-1zM469 469h1v2h-1zM383 470h2v1h-2zM350 467h1v4h-1zM442 469h1v2h-1zM283 471h1v1h-1zM536 465h1v7h-1zM384 471h1v1h-1zM178 471h1v1h-1zM41 466h1v6h-1zM468 471h1v1h-1zM212 470h1v2h-1zM127 471h2v1h-2zM319 470h1v2h-1zM521 468h1v4h-1zM127 472h1v1h-1zM129 472h2v1h-2zM114 469h1v4h-1zM251 470h1v3h-1zM353 470h1v3h-1zM500 469h1v4h-1zM211 472h1v1h-1zM161 468h1v5h-1zM282 472h2v1h-2zM466 472h2v1h-2zM300 471h1v2h-1zM85 469h1v4h-1zM388 468h1v6h-1zM490 469h1v5h-1zM151 470h1v4h-1zM385 472h1v2h-1zM349 471h1v3h-1zM299 473h1v1h-1zM382 471h1v3h-1zM463 473h3v1h-3zM424 471h1v3h-1zM282 473h1v1h-1zM131 473h1v1h-1zM177 472h1v2h-1zM443 471h1v4h-1zM320 472h1v3h-1zM210 473h1v2h-1zM192 468h1v7h-1zM298 474h1v1h-1zM602 471h1v4h-1zM126 473h1v2h-1zM176 474h1v1h-1zM462 474h1v2h-1zM297 475h1v1h-1zM386 474h2v2h-2zM132 474h1v2h-1zM381 474h1v2h-1zM284 473h1v3h-1zM354 473h1v3h-1zM115 473h1v3h-1zM400 471h1v5h-1zM175 475h1v1h-1zM281 474h1v2h-1zM209 475h1v2h-1zM535 472h1v5h-1zM150 474h1v3h-1zM522 472h1v5h-1zM499 473h1v4h-1zM252 473h1v4h-1zM423 474h1v3h-1zM387 476h1v1h-1zM162 473h1v4h-1zM296 476h1v1h-1zM348 474h1v4h-1zM174 476h1v2h-1zM321 475h1v3h-1zM491 474h1v4h-1zM133 476h1v2h-1zM280 476h1v2h-1zM84 473h1v5h-1zM295 477h1v1h-1zM125 475h1v3h-1zM461 476h1v2h-1zM355 476h1v2h-1zM444 475h1v4h-1zM380 476h1v3h-1zM285 476h1v3h-1zM42 472h1v7h-1zM116 476h1v3h-1zM208 477h1v2h-1zM603 475h1v4h-1zM498 477h1v2h-1zM293 478h2v1h-2zM347 478h1v2h-1zM173 478h1v2h-1zM279 478h1v2h-1zM422 477h1v3h-1zM124 478h1v2h-1zM291 479h2v1h-2zM492 478h1v2h-1zM460 478h1v2h-1zM534 477h1v3h-1zM134 478h1v2h-1zM356 478h1v2h-1zM149 477h1v3h-1zM379 479h1v2h-1zM163 477h1v4h-1zM604 479h1v2h-1zM357 480h1v1h-1zM345 480h2v1h-2zM193 475h1v6h-1zM523 477h1v4h-1zM207 479h1v2h-1zM459 480h1v1h-1zM290 480h1v1h-1zM253 477h1v4h-1zM322 478h1v3h-1zM135 480h1v1h-1zM401 476h1v5h-1zM123 480h1v2h-1zM289 481h1v1h-1zM83 478h1v4h-1zM286 479h1v3h-1zM497 479h1v3h-1zM378 481h1v1h-1zM172 480h1v2h-1zM493 480h1v2h-1zM343 481h2v1h-2zM278 480h1v2h-1zM117 479h1v3h-1zM136 481h1v2h-1zM164 481h1v2h-1zM376 482h2v1h-2zM458 481h1v2h-1zM421 480h1v3h-1zM206 481h1v2h-1zM343 482h1v1h-1zM358 481h1v2h-1zM148 480h1v3h-1zM287 482h2v1h-2zM277 482h1v1h-1zM122 482h1v1h-1zM494 482h1v2h-1zM605 481h1v3h-1zM82 482h1v2h-1zM445 479h1v5h-1zM496 482h1v2h-1zM524 481h1v3h-1zM533 480h1v4h-1zM323 481h1v3h-1zM43 479h1v5h-1zM171 482h1v2h-1zM287 483h1v1h-1zM118 482h1v3h-1zM375 483h1v2h-1zM205 483h1v2h-1zM137 483h1v2h-1zM147 483h1v2h-1zM165 483h1v2h-1zM170 484h1v1h-1zM276 483h1v2h-1zM359 483h1v2h-1zM254 481h1v4h-1zM121 483h1v2h-1zM457 483h1v2h-1zM119 485h2v1h-2zM402 481h1v5h-1zM169 485h1v1h-1zM495 484h1v2h-1zM146 485h1v1h-1zM275 485h1v1h-1zM606 484h1v2h-1zM420 483h1v3h-1zM342 483h1v3h-1zM81 484h1v3h-1zM324 484h1v3h-1zM119 486h1v1h-1zM532 484h1v3h-1zM138 485h1v2h-1zM166 485h1v2h-1zM456 485h1v2h-1zM360 485h1v2h-1zM374 485h1v2h-1zM204 485h1v2h-1zM168 486h1v1h-1zM145 486h1v2h-1zM44 484h1v4h-1zM255 485h1v3h-1zM274 486h1v2h-1zM139 487h2v1h-2zM607 486h1v2h-1zM446 484h1v4h-1zM419 486h1v2h-1zM194 481h1v7h-1zM341 486h1v2h-1zM167 487h1v1h-1zM525 484h1v4h-1zM531 487h1v2h-1zM418 488h1v1h-1zM608 488h2v1h-2zM455 487h1v2h-1zM203 487h1v2h-1zM141 488h2v1h-2zM144 488h1v1h-1zM80 487h1v2h-1zM361 487h1v3h-1zM530 489h1v1h-1zM416 489h2v1h-2zM273 488h1v2h-1zM373 487h1v3h-1zM256 488h1v2h-1zM403 486h1v4h-1zM610 489h1v1h-1zM143 489h1v1h-1zM340 488h1v3h-1zM415 490h1v1h-1zM611 490h1v1h-1zM526 488h1v3h-1zM529 490h1v1h-1zM79 489h1v2h-1zM202 489h1v2h-1zM325 487h1v4h-1zM414 491h1v1h-1zM372 490h1v2h-1zM45 488h1v4h-1zM272 490h1v2h-1zM404 490h1v2h-1zM527 491h2v1h-2zM257 490h1v2h-1zM362 490h1v2h-1zM195 488h1v4h-1zM454 489h1v3h-1zM339 491h1v1h-1zM447 488h1v4h-1zM78 491h1v1h-1zM363 492h1v1h-1zM201 491h1v2h-1zM366 492h4v1h-4zM371 492h1v1h-1zM338 492h2v1h-2zM527 492h1v1h-1zM271 492h1v1h-1zM196 492h1v1h-1zM270 493h1v1h-1zM326 491h1v3h-1zM363 493h3v1h-3zM77 492h1v2h-1zM335 493h3v1h-3zM370 493h2v1h-2zM413 492h1v2h-1zM258 492h1v2h-1zM405 492h1v2h-1zM448 492h1v2h-1zM200 493h1v2h-1zM197 493h1v2h-1zM335 494h1v1h-1zM259 494h1v1h-1zM76 494h1v1h-1zM412 494h1v1h-1zM198 495h2v1h-2zM406 494h1v2h-1zM269 494h1v2h-1zM453 492h1v4h-1zM75 495h1v1h-1zM411 495h1v1h-1zM46 492h1v4h-1zM259 495h3v1h-3zM199 496h1v1h-1zM409 496h2v1h-2zM449 494h1v3h-1zM407 496h1v1h-1zM327 494h1v3h-1zM262 496h4v1h-4zM268 496h1v1h-1zM266 497h2v1h-2zM74 496h1v2h-1zM334 495h1v3h-1zM407 497h2v1h-2zM47 496h1v2h-1zM48 498h2v1h-2zM73 498h1v1h-1zM452 496h1v3h-1zM450 497h1v2h-1zM328 497h1v3h-1zM50 499h1v1h-1zM72 499h1v2h-1zM51 500h2v1h-2zM451 499h1v2h-1zM53 501h2v1h-2zM67 501h5v1h-5zM329 500h1v2h-1zM333 498h1v4h-1zM55 502h2v1h-2zM66 502h1v1h-1zM57 503h2v1h-2zM65 503h1v1h-1zM332 502h1v3h-1zM330 502h1v3h-1zM59 504h3v1h-3zM64 504h1v1h-1zM62 505h2v1h-2zM331 505h1v2h-1z" fill="#20b2aa"/>
<line x1="4" y1="555.5" x2="636" y2="555.5" stroke="#c0c0c0" stroke-dasharray="3 3"/>
<rect x="3" y="549" width="1" height="7" fill="#0000ff"/>
<rect x="7" y="549" width="1" height="7" fill="#0000ff"/>
<rect x="11" y="548" width="1" height="8" fill="#0000ff"/>
<rect x="15" y="547" width="1" height="9" fill="#0000ff"/>
<rect x="19" y="545" width="1" height="11" fill="#0000ff"/>
<rect x="23" y="544" width="1" height="12" fill="#0000ff"/>
<rect x="27" y="542" width="1" height="14" fill="#0000ff"/>
<rect x="31" y="541" width="1" height="15" fill="#0000ff"/>
<rect x="35" y="541" width="1" height="15" fill="#0000ff"/>
<rect x="39" y="544" width="1" height="12" fill="#0000ff"/>
<rect x="43" y="545" width="1" height="11" fill="#0000ff"/>
<rect x="47" y="548" width="1" height="8" fill="#0000ff"/>
<rect x="51" y="552" width="1" height="4" fill="#0000ff"/>
<rect x="59" y="555" width="1" height="2" fill="#0000ff"/>
<rect x="63" y="555" width="1" height="5" fill="#0000ff"/>
<rect x="67" y="555" width="1" height="10" fill="#0000ff"/>
<rect x="71" y="555" width="1" height="14" fill="#0000ff"/>
<rect x="75" y="555" width="1" height="15" fill="#0000ff"/>
<rect x="79" y="555" width="1" height="16" fill="#0000ff"/>
<rect x="83" y="555" width="1" height="17" fill="#0000ff"/>
<rect x="87" y="555" width="1" height="17" fill="#0000ff"/>
<rect x="91" y="555" width="1" height="16" fill="#0000ff"/>
<rect x="95" y="555" width="1" height="16" fill="#0000ff"/>
<rect x="99" y="555" width="1" height="16" fill="#0000ff"/>
<rect x="103" y="555" width="1" height="15" fill="#0000ff"/>
<rect x="107" y="555" width="1" height="15" fill="#0000ff"/>
<rect x="111" y="555" width="1" height="15" fill="#0000ff"/>
<rect x="115" y="555" width="1" height="15" fill="#0000ff"/>
<rect x="119" y="555" width="1" height="15" fill="#0000ff"/>
<rect x="123" y="555" width="1" height="15" fill="#0000ff"/>
<rect x="127" y="555" width="1" height="14" fill="#0000ff"/>
<rect x="131" y="555" width="1" height="14" fill="#0000ff"/>
<rect x="135" y="555" width="1" height="15" fill="#0000ff"/>
<rect x="139" y="555" width="1" height="15" fill="#0000ff"/>
<rect x="143" y="555" width="1" height="15" fill="#0000ff"/>
<rect x="147" y="555" width="1" height="15" fill="#0000ff"/>
<rect x="151" y="555" width="1" height="14" fill="#0000ff"/>
<rect x="155" y="555" width="1" height="13" fill="#0000ff"/>
<rect x="159" y="555" width="1" height="13" fill="#0000ff"/>
<rect x="163" y="555" width="1" height="13" fill="#0000ff"/>
<rect x="167" y="555" width="1" height="13" fill="#0000ff"/>
<rect x="171" y="555" width="1" height="12" fill="#0000ff"/>
<rect x="175" y="555" width="1" height="12" fill="#0000ff"/>
<rect x="179" y="555" width="1" height="11" fill="#0000ff"/>
<rect x="183" y="555" width="1" height="9" fill="#0000ff"/>
<rect x="187" y="555" width="1" height="9" fill="#0000ff"/>
<rect x="191" y="555" width="1" height="9" fill="#0000ff"/>
<rect x="195" y="555" width="1" height="9" fill="#0000ff"/>
<rect x="199" y="555" width="1" height="8" fill="#0000ff"/>
<rect x="203" y="555" width="1" height="7" fill="#0000ff"/>
<rect x="207" y="555" width="1" height="7" fill="#0000ff"/>
<rect x="211" y="555" width="1" height="7" fill="#0000ff"/>
<rect x="215" y="555" width="1" height="6" fill="#0000ff"/>
<rect x="219" y="555" width="1" height="6" fill="#0000ff"/>
<rect x="223" y="555" width="1" height="5" fill="#0000ff"/>
<rect x="227" y="555" width="1" height="5" fill="#0000ff"/>
<rect x="231" y="555" width="1" height="4" fill="#0000ff"/>
<rect x="235" y="555" width="1" height="3" fill="#0000ff"/>
<rect x="239" y="555" width="1" height="3" fill="#0000ff"/>
<rect x="243" y="555" width="1" height="1" fill="#0000ff"/>
<rect x="247" y="555" width="1" height="1" fill="#0000ff"/>
<rect x="255" y="555" width="1" height="3" fill="#0000ff"/>
<rect x="259" y="555" width="1" height="3" fill="#0000ff"/>
<rect x="263" y="555" width="1" height="1" fill="#0000ff"/>
<rect x="267" y="555" width="1" height="3" fill="#0000ff"/>
<rect x="271" y="555" width="1" height="3" fill="#0000ff"/>
<rect x="275" y="555" width="1" height="3" fill="#0000ff"/>
<rect x="279" y="555" width="1" height="3" fill="#0000ff"/>
<rect x="283" y="555" width="1" height="4" fill="#0000ff"/>
<rect x="287" y="555" width="1" height="4" fill="#0000ff"/>
<rect x="291" y="555" width="1" height="4" fill="#0000ff"/>
<rect x="295" y="555" width="1" height="4" fill="#0000ff"/>
<rect x="299" y="555" width="1" height="4" fill="#0000ff"/>
<rect x="303" y="555" width="1" height="4" fill="#0000ff"/>
<rect x="307" y="555" width="1" height="4" fill="#0000ff"/>
<rect x="311" y="555" width="1" height="4" fill="#0000ff"/>
<rect x="315" y="555" width="1" height="4" fill="#0000ff"/>
<rect x="319" y="555" width="1" height="4" fill="#0000ff"/>
<rect x="323" y="555" width="1" height="5" fill="#0000ff"/>
<rect x="327" y="555" width="1" height="6" fill="#0000ff"/>
<rect x="331" y="555" width="1" height="7" fill="#0000ff"/>
<rect x="335" y="555" width="1" height="8" fill="#0000ff"/>
<rect x="339" y="555" width="1" height="8" fill="#0000ff"/>
<rect x="343" y="555" width="1" height="8" fill="#0000ff"/>
<rect x="347" y="555" width="1" height="8" fill="#0000ff"/>
<rect x="351" y="555" width="1" height="8" fill="#0000ff"/>
<rect x="355" y="555" width="1" height="10" fill="#0000ff"/>
<rect x="359" y="555" width="1" height="11" fill="#0000ff"/>
<rect x="363" y="555" width="1" height="11" fill="#0000ff"/>
<rect x="367" y="555" width="1" height="12" fill="#0000ff"/>
<rect x="371" y="555" width="1" height="12" fill="#0000ff"/>
<rect x="375" y="555" width="1" height="12" fill="#0000ff"/>
<rect x="379" y="555" width="1" height="12" fill="#0000ff"/>
<rect x="383" y="555" width="1" height="11" fill="#0000ff"/>
<rect x="387" y="555" width="1" height="10" fill="#0000ff"/>
<rect x="391" y="555" width="1" height="9" fill="#0000ff"/>
<rect x="395" y="555" width="1" height="9" fill="#0000ff"/>
<rect x="399" y="555" width="1" height="9" fill="#0000ff"/>
<rect x="403" y="555" width="1" height="10" fill="#0000ff"/>
<rect x="407" y="555" width="1" height="10" fill="#0000ff"/>
<rect x="411" y="555" width="1" height="11" fill="#0000ff"/>
<rect x="415" y="555" width="1" height="11" fill="#0000ff"/>
<rect x="419" y="555" width="1" height="11" fill="#0000ff"/>
<rect x="423" y="555" width="1" height="10" fill="#0000ff"/>
<rect x="427" y="555" width="1" height="10" fill="#0000ff"/>
<rect x="431" y="555" width="1" height="9" fill="#0000ff"/>
<rect x="435" y="555" width="1" height="9" fill="#0000ff"/>
<rect x="439" y="555" width="1" height="9" fill="#0000ff"/>
<rect x="443" y="555" width="1" height="9" fill="#0000ff"/>
<rect x="447" y="555" width="1" height="10" fill="#0000ff"/>
<rect x="451" y="555" width="1" height="13" fill="#0000ff"/>
<rect x="455" y="555" width="1" height="13" fill="#0000ff"/>
<rect x="459" y="555" width="1" height="14" fill="#0000ff"/>
<rect x="463" y="555" width="1" height="14" fill="#0000ff"/>
<rect x="467" y="555" width="1" height="14" fill="#0000ff"/>
<rect x="471" y="555" width="1" height="14" fill="#0000ff"/>
<rect x="475" y="555" width="1" height="13" fill="#0000ff"/>
<rect x="479" y="555" width="1" height="12" fill="#0000ff"/>
<rect x="483" y="555" width="1" height="11" fill="#0000ff"/>
<rect x="487" y="555" width="1" height="11" fill="#0000ff"/>
<rect x="491" y="555" width="1" height="11" fill="#0000ff"/>
<rect x="495" y="555" width="1" height="11" fill="#0000ff"/>
<rect x="499" y="555" width="1" height="10" fill="#0000ff"/>
<rect x="503" y="555" width="1" height="9" fill="#0000ff"/>
<rect x="507" y="555" width="1" height="8" fill="#0000ff"/>
<rect x="511" y="555" width="1" height="6" fill="#0000ff"/>
<rect x="515" y="555" width="1" height="6" fill="#0000ff"/>
<rect x="519" y="555" width="1" height="6" fill="#0000ff"/>
<rect x="523" y="555" width="1" height="6" fill="#0000ff"/>
<rect x="527" y="555" width="1" height="7" fill="#0000ff"/>
<rect x="531" y="555" width="1" height="7" fill="#0000ff"/>
<rect x="535" y="555" width="1" height="7" fill="#0000ff"/>
<rect x="539" y="555" width="1" height="3" fill="#0000ff"/>
<rect x="543" y="555" width="1" height="1" fill="#0000ff"/>
<rect x="547" y="552" width="1" height="4" fill="#0000ff"/>
<rect x="551" y="547" width="1" height="9" fill="#0000ff"/>
<rect x="555" y="541" width="1" height="15" fill="#0000ff"/>
<rect x="559" y="536" width="1" height="20" fill="#0000ff"/>
<rect x="563" y="532" width="1" height="24" fill="#0000ff"/>
<rect x="567" y="528" width="1" height="28" fill="#0000ff"/>
<rect x="571" y="525" width="1" height="31" fill="#0000ff"/>
<rect x="575" y="522" width="1" height="34" fill="#0000ff"/>
<rect x="579" y="521" width="1" height="35" fill="#0000ff"/>
<rect x="583" y="520" width="1" height="36" fill="#0000ff"/>
<rect x="587" y="520" width="1" height="36" fill="#0000ff"/>
<rect x="591" y="519" width="1" height="37" fill="#0000ff"/>
<rect x="595" y="519" width="1" height="37" fill="#0000ff"/>
<rect x="599" y="520" width="1" height="36" fill="#0000ff"/>
<rect x="603" y="520" width="1" height="36" fill="#0000ff"/>
<rect x="607" y="523" width="1" height="33" fill="#0000ff"/>
<rect x="611" y="524" width="1" height="32" fill="#0000ff"/>
<path d="M602 520h3v1h-3zM608 520h3v1h-3zM598 521h1v1h-1zM596 522h2v1h-2zM591 524h2v1h-2zM590 525h1v1h-1zM586 528h1v1h-1zM584 529h2v1h-2zM580 532h1v1h-1zM579 533h1v1h-1zM578 534h1v1h-1zM575 538h1v1h-1zM574 539h1v1h-1zM573 540h1v1h-1zM45 542h3v1h-3zM39 543h3v1h-3zM51 543h2v1h-2zM568 544h2v1h-2zM33 544h3v1h-3zM53 544h1v1h-1zM57 545h1v1h-1zM567 545h1v1h-1zM29 545h1v1h-1zM58 546h2v1h-2zM27 546h2v1h-2zM22 547h2v1h-2zM21 548h1v1h-1zM15 549h3v1h-3zM63 549h2v1h-2zM563 549h1v1h-1zM11 550h1v1h-1zM65 550h1v1h-1zM562 550h1v1h-1zM9 551h2v1h-2zM561 551h1v1h-1zM69 552h1v1h-1zM70 553h1v1h-1zM3 553h3v1h-3zM71 554h1v1h-1zM556 554h2v1h-2zM555 555h1v1h-1zM267 557h3v1h-3zM551 557h1v1h-1zM261 557h3v1h-3zM75 557h1v1h-1zM273 557h3v1h-3zM76 558h2v1h-2zM279 558h3v1h-3zM255 558h3v1h-3zM250 558h2v1h-2zM549 558h2v1h-2zM285 558h3v1h-3zM303 559h3v1h-3zM309 559h3v1h-3zM321 559h3v1h-3zM249 559h1v1h-1zM243 559h3v1h-3zM291 559h3v1h-3zM297 559h3v1h-3zM333 560h1v1h-1zM543 560h3v1h-3zM315 560h3v1h-3zM237 560h3v1h-3zM327 560h3v1h-3zM81 561h1v1h-1zM339 561h3v1h-3zM345 561h1v1h-1zM334 561h2v1h-2zM231 561h3v1h-3zM346 562h2v1h-2zM351 562h3v1h-3zM537 562h3v1h-3zM225 562h3v1h-3zM82 562h1v1h-1zM83 563h1v1h-1zM531 563h3v1h-3zM219 563h3v1h-3zM214 563h2v1h-2zM357 563h2v1h-2zM525 563h3v1h-3zM359 564h1v1h-1zM519 564h3v1h-3zM207 564h3v1h-3zM363 564h3v1h-3zM213 564h1v1h-1zM513 564h3v1h-3zM447 565h3v1h-3zM435 565h3v1h-3zM441 565h3v1h-3zM453 565h1v1h-1zM417 565h3v1h-3zM201 565h3v1h-3zM507 565h3v1h-3zM369 565h3v1h-3zM375 565h3v1h-3zM423 565h3v1h-3zM429 565h3v1h-3zM393 566h3v1h-3zM381 566h3v1h-3zM387 566h3v1h-3zM454 566h2v1h-2zM405 566h3v1h-3zM87 566h2v1h-2zM459 566h3v1h-3zM399 566h3v1h-3zM465 566h1v1h-1zM190 566h2v1h-2zM501 566h3v1h-3zM411 566h3v1h-3zM195 566h3v1h-3zM189 567h1v1h-1zM89 567h1v1h-1zM495 567h3v1h-3zM471 567h3v1h-3zM466 567h2v1h-2zM477 567h1v1h-1zM478 568h2v1h-2zM483 568h3v1h-3zM178 568h2v1h-2zM489 568h3v1h-3zM93 568h1v1h-1zM183 568h3v1h-3zM94 569h2v1h-2zM177 569h1v1h-1zM166 569h2v1h-2zM171 569h3v1h-3zM123 570h3v1h-3zM159 570h3v1h-3zM129 570h3v1h-3zM135 570h3v1h-3zM165 570h1v1h-1zM153 570h3v1h-3zM141 570h3v1h-3zM147 570h3v1h-3zM117 571h3v1h-3zM99 571h3v1h-3zM105 571h3v1h-3zM111 571h3v1h-3z" fill="#ff0000"/>
<rect x="2" y="2" width="635" height="1" fill="#000"/>
<rect x="2" y="354" width="635" height="1" fill="#000"/>
<rect x="2" y="2" width="1" height="353" fill="#000"/>
<rect x="636" y="2" width="1" height="353" fill="#000"/>
<rect x="2" y="356" width="635" height="1" fill="#000"/>
<rect x="2" y="425" width="635" height="1" fill="#000"/>
<rect x="2" y="356" width="1" height="70" fill="#000"/>
<rect x="636" y="356" width="1" height="70" fill="#000"/>
<rect x="2" y="427" width="635" height="1" fill="#000"/>
<rect x="2" y="512" width="635" height="1" fill="#000"/>
<rect x="2" y="427" width="1" height="86" fill="#000"/>
<rect x="636" y="427" width="1" height="86" fill="#000"/>
<rect x="2" y="514" width="635" height="1" fill="#000"/>
<rect x="2" y="576" width="635" height="1" fill="#000"/>
<rect x="2" y="514" width="1" height="63" fill="#000"/>
<rect x="636" y="514" width="1" height="63" fill="#000"/>
<rect x="637" y="41" width="2" height="1" fill="#000"/>
<rect x="637" y="90" width="2" height="1" fill="#000"/>
<rect x="637" y="139" width="2" height="1" fill="#000"/>
<rect x="637" y="188" width="2" height="1" fill="#000"/>
<rect x="637" y="237" width="2" height="1" fill="#000"/>
<rect x="637" y="286" width="2" height="1" fill="#000"/>
<rect x="637" y="335" width="2" height="1" fill="#000"/>
<rect x="637" y="358" width="1" height="1" fill="#000"/>
<rect x="637" y="424" width="1" height="1" fill="#000"/>
<rect x="637" y="429" width="1" height="1" fill="#000"/>
<rect x="637" y="511" width="1" height="1" fill="#000"/>
<rect x="637" y="516" width="1" height="1" fill="#000"/>
<rect x="637" y="575" width="1" height="1" fill="#000"/>
<rect x="3" y="577" width="1" height="3" fill="#000"/>
<rect x="99" y="577" width="1" height="3" fill="#000"/>
<rect x="195" y="577" width="1" height="3" fill="#000"/>
<rect x="291" y="577" width="1" height="3" fill="#000"/>
<rect x="387" y="577" width="1" height="3" fill="#000"/>
<rect x="483" y="577" width="1" height="3" fill="#000"/>
<rect x="579" y="577" width="1" height="3" fill="#000"/>
<rect x="6" y="10" width="9" height="1" fill="#000"/>
<rect x="7" y="11" width="7" height="1" fill="#000"/>
<rect x="8" y="12" width="5" height="1" fill="#000"/>
<rect x="9" y="13" width="3" height="1" fill="#000"/>
<rect x="10" y="14" width="1" height="1" fill="#000"/>
</g>
<g>
<text x="643" y="45.6" fill="#000" font-size="12.6" textLength="46" lengthAdjust="spacingAndGlyphs">0.92630</text>
<text x="643" y="94.6" fill="#000" font-size="12.6" textLength="46" lengthAdjust="spacingAndGlyphs">0.92070</text>
<text x="643" y="192.6" fill="#000" font-size="12.6" textLength="46" lengthAdjust="spacingAndGlyphs">0.90950</text>
<text x="643" y="241.6" fill="#000" font-size="12.6" textLength="46" lengthAdjust="spacingAndGlyphs">0.90380</text>
<text x="643" y="290.6" fill="#000" font-size="12.6" textLength="46" lengthAdjust="spacingAndGlyphs">0.89820</text>
<text x="643" y="339.6" fill="#000" font-size="12.6" textLength="46" lengthAdjust="spacingAndGlyphs">0.89260</text>
<rect x="638" y="87" width="56" height="14" fill="#ff0000" shape-rendering="crispEdges"/>
<text x="643" y="98.6" fill="#fff" font-size="12.6" textLength="46" lengthAdjust="spacingAndGlyphs">0.92034</text>
<rect x="638" y="106" width="56" height="14" fill="#ff0000" shape-rendering="crispEdges"/>
<text x="643" y="117.6" fill="#fff" font-size="12.6" textLength="46" lengthAdjust="spacingAndGlyphs">0.91819</text>
<rect x="638" y="133" width="56" height="14" fill="#000" shape-rendering="crispEdges"/>
<text x="643" y="144.6" fill="#fff" font-size="12.6" textLength="46" lengthAdjust="spacingAndGlyphs">0.91499</text>
<rect x="638" y="141" width="56" height="14" fill="#008000" shape-rendering="crispEdges"/>
<text x="643" y="152.6" fill="#fff" font-size="12.6" textLength="46" lengthAdjust="spacingAndGlyphs">0.91413</text>
<rect x="638" y="159" width="56" height="14" fill="#008000" shape-rendering="crispEdges"/>
<text x="643" y="170.6" fill="#fff" font-size="12.6" textLength="46" lengthAdjust="spacingAndGlyphs">0.91214</text>
<rect x="638" y="186" width="56" height="14" fill="#008000" shape-rendering="crispEdges"/>
<text x="643" y="197.6" fill="#fff" font-size="12.6" textLength="46" lengthAdjust="spacingAndGlyphs">0.90896</text>
<text x="21" y="17" fill="#000" font-size="12.6" textLength="62.5" lengthAdjust="spacingAndGlyphs">USDCHF,H1</text>
<text x="92" y="17" fill="#000" font-size="12.6" textLength="46" lengthAdjust="spacingAndGlyphs">0.91451</text>
<text x="142" y="17" fill="#000" font-size="12.6" textLength="46" lengthAdjust="spacingAndGlyphs">0.91531</text>
<text x="192.5" y="17" fill="#000" font-size="12.6" textLength="46" lengthAdjust="spacingAndGlyphs">0.91451</text>
<text x="242.5" y="17" fill="#000" font-size="12.6" textLength="46" lengthAdjust="spacingAndGlyphs">0.91499</text>
<text x="640.5" y="370.5" fill="#000" font-size="12.6" textLength="21" lengthAdjust="spacingAndGlyphs">100</text>
<text x="639.6" y="382.8" fill="#000" font-size="12.6" textLength="14" lengthAdjust="spacingAndGlyphs">70</text>
<text x="639.6" y="396.1" fill="#000" font-size="12.6" textLength="14" lengthAdjust="spacingAndGlyphs">50</text>
<text x="639.6" y="409.0" fill="#000" font-size="12.6" textLength="14" lengthAdjust="spacingAndGlyphs">30</text>
<text x="640.5" y="422.0" fill="#000" font-size="12.6" textLength="7" lengthAdjust="spacingAndGlyphs">0</text>
<text x="640.5" y="441.1" fill="#000" font-size="12.6" textLength="21" lengthAdjust="spacingAndGlyphs">100</text>
<text x="639.6" y="449.8" fill="#000" font-size="12.6" textLength="14" lengthAdjust="spacingAndGlyphs">80</text>
<text x="639.6" y="474.9" fill="#000" font-size="12.6" textLength="14" lengthAdjust="spacingAndGlyphs">50</text>
<text x="639.6" y="499.5" fill="#000" font-size="12.6" textLength="14" lengthAdjust="spacingAndGlyphs">20</text>
<text x="640.5" y="509.2" fill="#000" font-size="12.6" textLength="7" lengthAdjust="spacingAndGlyphs">0</text>
<text x="640" y="528" fill="#000" font-size="12.6" textLength="53" lengthAdjust="spacingAndGlyphs">0.003096</text>
<text x="640" y="560.3" fill="#000" font-size="12.6" textLength="25" lengthAdjust="spacingAndGlyphs">0.00</text>
<text x="640" y="560.3" fill="#000" font-size="12.6" textLength="7" lengthAdjust="spacingAndGlyphs">0</text>
<text x="640" y="573" fill="#000" font-size="12.6" textLength="57" lengthAdjust="spacingAndGlyphs">-0.001577</text>
<text x="2.5" y="592" fill="#000" font-size="12.6" textLength="70.5" lengthAdjust="spacingAndGlyphs">12 Aug 2020</text>
<text x="98.3" y="592" fill="#000" font-size="12.6" textLength="74.7" lengthAdjust="spacingAndGlyphs">13 Aug 00:00</text>
<text x="194.3" y="592" fill="#000" font-size="12.6" textLength="74.7" lengthAdjust="spacingAndGlyphs">14 Aug 00:00</text>
<text x="290.3" y="592" fill="#000" font-size="12.6" textLength="74.7" lengthAdjust="spacingAndGlyphs">17 Aug 00:00</text>
<text x="386.3" y="592" fill="#000" font-size="12.6" textLength="74.7" lengthAdjust="spacingAndGlyphs">18 Aug 00:00</text>
<text x="482.3" y="592" fill="#000" font-size="12.6" textLength="74.7" lengthAdjust="spacingAndGlyphs">19 Aug 00:00</text>
<text x="578.3" y="592" fill="#000" font-size="12.6" textLength="74.7" lengthAdjust="spacingAndGlyphs">20 Aug 00:00</text>
</g>
</svg>
</body></html>
